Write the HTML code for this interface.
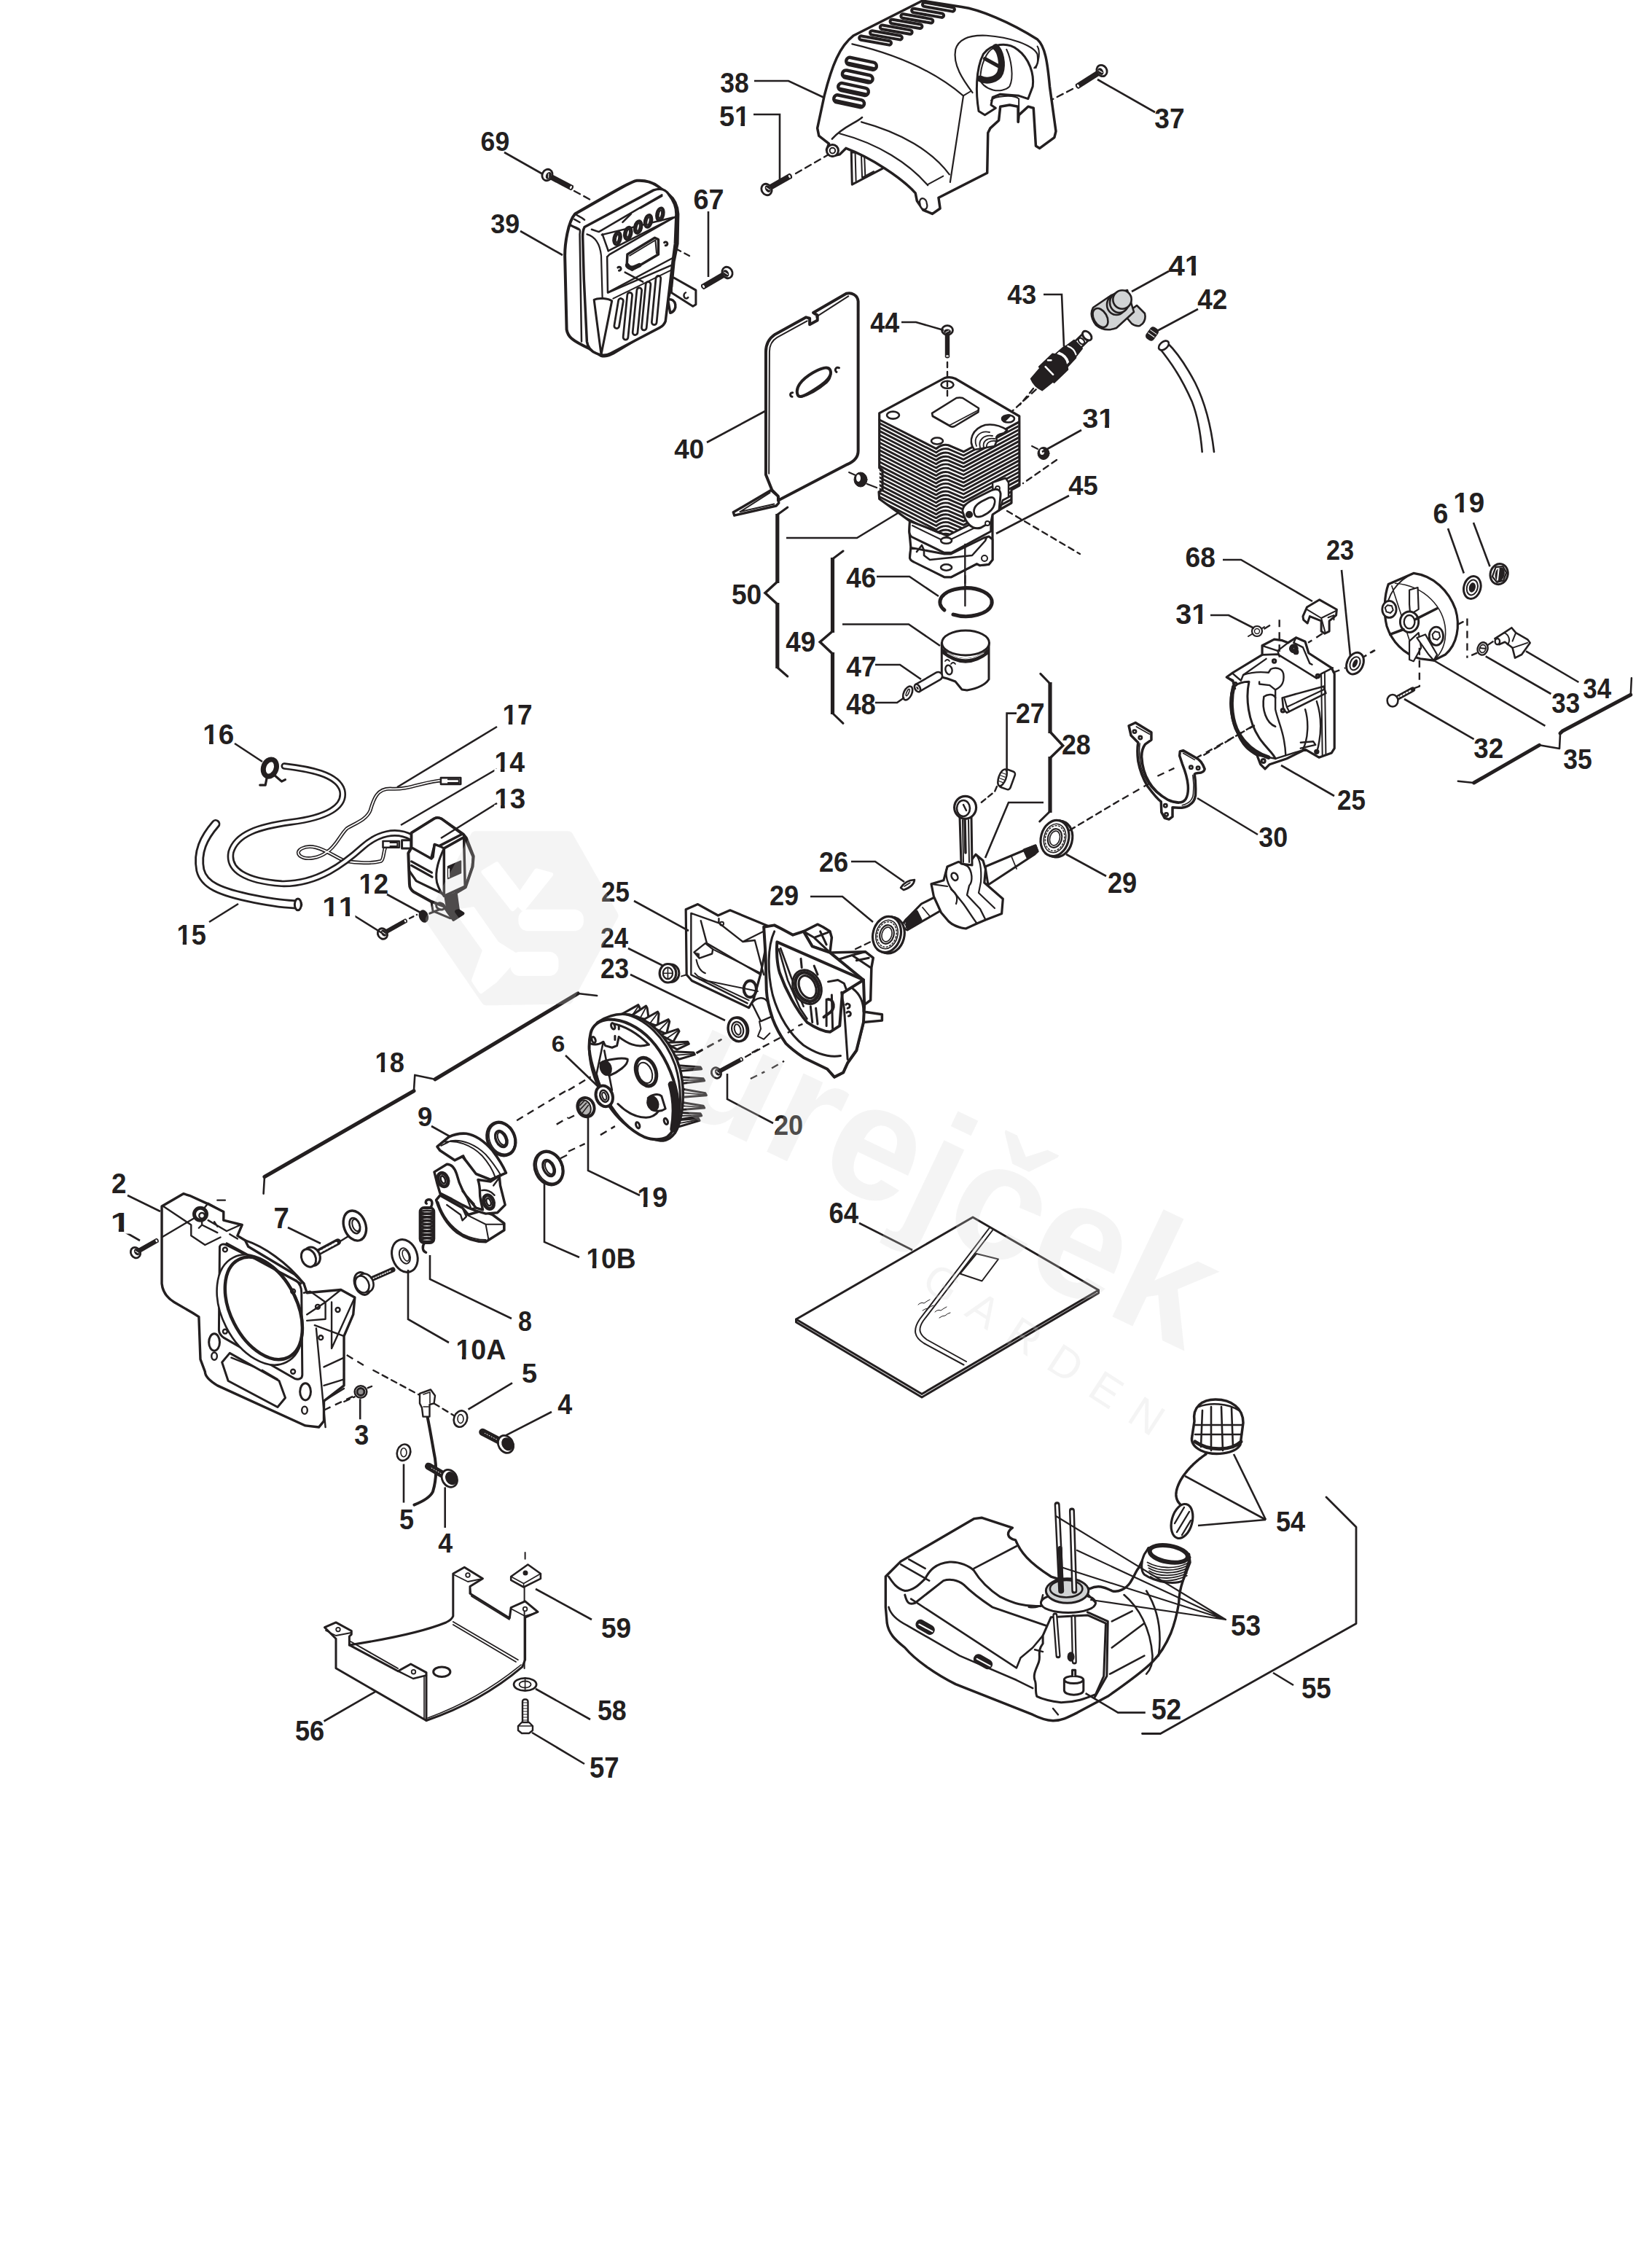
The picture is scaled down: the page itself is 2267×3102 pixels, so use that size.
<!DOCTYPE html><html><head><meta charset="utf-8"><style>html,body{margin:0;padding:0;background:#fff}svg{display:block}</style></head><body>
<svg width="2267" height="3102" viewBox="0 0 2267 3102">
<rect width="2267" height="3102" fill="#fff"/>

<g fill="#fff" stroke="#231f20" stroke-width="3" stroke-linejoin="round" stroke-linecap="round">
<g transform="translate(1110,0) scale(0.211864)"><path d="M275 985 L280 1195 L480 1090 L470 1000 Z" stroke-width="3" fill="#fff" vector-effect="non-scaling-stroke" /><path d="M300 990 L305 1170 M340 1010 L345 1150 L420 1110 M360 1020 L365 1140" stroke-width="2" fill="none" vector-effect="non-scaling-stroke"/><path d="M290 230 L735 5 L990 45 C1100 60 1300 140 1480 255 C1530 300 1545 400 1560 560 L1600 850 L1590 890 L1495 960 L1470 945 L1455 700 L1420 690 L1360 745 L1355 790 L1355 690 L1300 680 L1240 690 L1230 780 L1175 830 L1160 860 L1155 1120 L840 1280 L850 1350 L800 1385 L740 1360 L700 1300 L690 1250 C600 1150 400 1020 240 960 L200 1000 L150 1010 L115 970 L130 930 L65 880 L55 830 L100 620 C150 420 200 300 290 230 Z" stroke-width="3.5" fill="#fff" vector-effect="non-scaling-stroke" /><path d="M280 285 C560 350 800 450 1000 620" stroke-width="2.2" fill="none" vector-effect="non-scaling-stroke"/><path d="M1000 625 L915 1180" stroke-width="2.2" fill="none" vector-effect="non-scaling-stroke"/><path d="M345 760 C300 800 220 820 150 900" stroke-width="2.5" fill="none" vector-effect="non-scaling-stroke"/><path d="M340 790 C600 860 800 980 910 1130" stroke-width="2.2" fill="none" vector-effect="non-scaling-stroke"/><path d="M200 865 C450 930 650 1060 770 1200" stroke-width="2.2" fill="none" vector-effect="non-scaling-stroke"/><path d="M770 1195 L870 1140" stroke-width="2" fill="none" vector-effect="non-scaling-stroke"/><path d="M1000 620 L1050 590" stroke-width="2" fill="none" vector-effect="non-scaling-stroke"/><path d="M115 975 a38 38 0 1 0 76 0 a38 38 0 1 0 -76 0 Z" stroke-width="3" fill="#fff" vector-effect="non-scaling-stroke" /><path d="M135 975 a18 18 0 1 0 36 0 a18 18 0 1 0 -36 0" stroke-width="2" fill="none" vector-effect="non-scaling-stroke"/><path d="M720 1320 a22 30 -20 1 0 44 0 a22 30 -20 1 0 -44 0 Z" stroke-width="2.2" fill="#fff" vector-effect="non-scaling-stroke" /><g transform="translate(430,262) rotate(10)"><rect x="-105" y="-13" width="210" height="26" rx="13" stroke-width="4" fill="#fff" vector-effect="non-scaling-stroke"/></g><g transform="translate(500,228) rotate(10)"><rect x="-105" y="-13" width="210" height="26" rx="13" stroke-width="4" fill="#fff" vector-effect="non-scaling-stroke"/></g><g transform="translate(565,192) rotate(10)"><rect x="-105" y="-13" width="210" height="26" rx="13" stroke-width="4" fill="#fff" vector-effect="non-scaling-stroke"/></g><g transform="translate(630,155) rotate(10)"><rect x="-105" y="-13" width="210" height="26" rx="13" stroke-width="4" fill="#fff" vector-effect="non-scaling-stroke"/></g><g transform="translate(700,120) rotate(10)"><rect x="-105" y="-13" width="210" height="26" rx="13" stroke-width="4" fill="#fff" vector-effect="non-scaling-stroke"/></g><g transform="translate(770,84) rotate(10)"><rect x="-105" y="-13" width="210" height="26" rx="13" stroke-width="4" fill="#fff" vector-effect="non-scaling-stroke"/></g><g transform="translate(840,45) rotate(10)"><rect x="-105" y="-13" width="210" height="26" rx="13" stroke-width="4" fill="#fff" vector-effect="non-scaling-stroke"/></g><g transform="translate(340,412) rotate(12)"><rect x="-100" y="-24" width="200" height="48" rx="24" stroke-width="4.5" fill="#fff" vector-effect="non-scaling-stroke"/><line x1="-85" y1="12" x2="85" y2="12" stroke-width="3" vector-effect="non-scaling-stroke"/></g><g transform="translate(315,495) rotate(12)"><rect x="-100" y="-24" width="200" height="48" rx="24" stroke-width="4.5" fill="#fff" vector-effect="non-scaling-stroke"/><line x1="-85" y1="12" x2="85" y2="12" stroke-width="3" vector-effect="non-scaling-stroke"/></g><g transform="translate(288,578) rotate(12)"><rect x="-100" y="-24" width="200" height="48" rx="24" stroke-width="4.5" fill="#fff" vector-effect="non-scaling-stroke"/><line x1="-85" y1="12" x2="85" y2="12" stroke-width="3" vector-effect="non-scaling-stroke"/></g><g transform="translate(260,655) rotate(12)"><rect x="-100" y="-24" width="200" height="48" rx="24" stroke-width="4.5" fill="#fff" vector-effect="non-scaling-stroke"/><line x1="-85" y1="12" x2="85" y2="12" stroke-width="3" vector-effect="non-scaling-stroke"/></g><path d="M1060 600 C1000 520 930 420 950 320 C970 250 1040 225 1150 230 C1300 240 1450 290 1480 350 C1490 420 1470 430 1460 440" stroke-width="2.2" fill="none" vector-effect="non-scaling-stroke"/><path d="M1100 720 C1080 600 1080 450 1130 350 C1180 280 1290 270 1350 320 C1430 380 1460 480 1450 560 L1420 640 L1360 620 L1240 610 L1190 630 L1180 680 L1210 700 L1140 745 Z" stroke-width="3" fill="#fff" vector-effect="non-scaling-stroke" /><path d="M1110 520 C1110 420 1150 330 1200 310 C1250 320 1260 480 1200 520 Z" stroke-width="2" fill="#fff" vector-effect="non-scaling-stroke" /><path d="M1110 510 C1150 530 1220 520 1240 470 C1260 410 1240 330 1210 305" stroke-width="9" fill="none" vector-effect="non-scaling-stroke"/><path d="M1140 380 L1250 440" stroke-width="5" fill="none" vector-effect="non-scaling-stroke"/><path d="M1100 500 C1130 590 1250 610 1300 560 C1330 500 1310 380 1280 320" stroke-width="2" fill="none" vector-effect="non-scaling-stroke"/><path d="M1180 650 C1200 620 1330 610 1360 640 L1360 790" stroke-width="2" fill="none" vector-effect="non-scaling-stroke"/><path d="M1480 300 C1500 330 1490 400 1470 440" stroke-width="2" fill="none" vector-effect="non-scaling-stroke"/></g>
<g transform="translate(740,220) scale(0.163439)"><path d="M1110 990 L1130 985 L1315 1090 L1315 1210 L1290 1225 L1110 1110 Z" stroke-width="3" fill="#fff" vector-effect="non-scaling-stroke" /><path d="M1230 1110 a20 25 0 1 0 20 40" stroke-width="2.5" fill="none" vector-effect="non-scaling-stroke"/><path d="M1080 1170 C1150 1150 1170 1260 1100 1280 Z" stroke-width="3.5" fill="#fff" vector-effect="non-scaling-stroke" /><path d="M300 450 C240 520 215 700 215 800 L230 1420 C240 1480 270 1510 420 1580 L520 1640 C560 1650 590 1635 620 1620 L1000 1390 C1040 1370 1050 1340 1055 1300 L1070 1200 L1110 1060 L1130 850 L1160 700 L1165 450 C1160 380 1140 330 1090 290 L1000 220 C960 190 900 165 820 170 C780 175 700 220 300 450 Z" stroke-width="4" fill="#fff" vector-effect="non-scaling-stroke" /><path d="M260 540 C330 580 350 560 340 620 L355 1520" stroke-width="2.5" fill="none" vector-effect="non-scaling-stroke"/><path d="M295 495 L340 520 M260 545 L330 580" stroke-width="2.5" fill="none" vector-effect="non-scaling-stroke"/><path d="M300 450 C330 470 360 480 380 500" stroke-width="2.5" fill="none" vector-effect="non-scaling-stroke"/><path d="M380 560 L960 250 C1020 230 1060 240 1090 290 C1130 340 1150 400 1150 450 L1140 700 L1120 850 L1090 1100 L1060 1350 C1050 1380 1030 1395 1010 1405 L600 1620 C560 1640 520 1640 480 1620 C430 1600 405 1560 400 1520 L375 1000 L365 640 C365 600 370 580 380 560 Z" stroke-width="3.5" fill="#fff" vector-effect="non-scaling-stroke" /><path d="M400 620 C470 640 510 700 520 800 L530 1150" stroke-width="2.2" fill="none" vector-effect="non-scaling-stroke"/><path d="M440 580 L500 600 L1030 290" stroke-width="2.5" fill="none" vector-effect="non-scaling-stroke"/><path d="M700 520 L770 450 M850 400 L1030 300" stroke-width="2.5" fill="none" vector-effect="non-scaling-stroke"/><path d="M530 620 L580 760 M525 625 L1120 480" stroke-width="2.5" fill="none" vector-effect="non-scaling-stroke"/><path d="M580 760 L1150 470" stroke-width="2.5" fill="none" vector-effect="non-scaling-stroke"/><g transform="translate(655,655) rotate(12)"><ellipse rx="28" ry="52" stroke-width="4" fill="#fff" vector-effect="non-scaling-stroke"/><ellipse rx="12" ry="34" stroke-width="2" fill="none" vector-effect="non-scaling-stroke"/></g><g transform="translate(745,612) rotate(12)"><ellipse rx="28" ry="52" stroke-width="4" fill="#fff" vector-effect="non-scaling-stroke"/><ellipse rx="12" ry="34" stroke-width="2" fill="none" vector-effect="non-scaling-stroke"/></g><g transform="translate(830,560) rotate(12)"><ellipse rx="28" ry="52" stroke-width="4" fill="#fff" vector-effect="non-scaling-stroke"/><ellipse rx="12" ry="34" stroke-width="2" fill="none" vector-effect="non-scaling-stroke"/></g><g transform="translate(915,510) rotate(12)"><ellipse rx="28" ry="52" stroke-width="4" fill="#fff" vector-effect="non-scaling-stroke"/><ellipse rx="12" ry="34" stroke-width="2" fill="none" vector-effect="non-scaling-stroke"/></g><g transform="translate(1015,452) rotate(12)"><ellipse rx="28" ry="52" stroke-width="4" fill="#fff" vector-effect="non-scaling-stroke"/><ellipse rx="12" ry="34" stroke-width="2" fill="none" vector-effect="non-scaling-stroke"/></g><path d="M570 810 L590 790 L1130 480" stroke-width="2.5" fill="none" vector-effect="non-scaling-stroke"/><path d="M570 810 L575 1110 L1120 820" stroke-width="2.5" fill="none" vector-effect="non-scaling-stroke"/><path d="M740 790 L970 650 L1000 665 L1000 790 L780 920 L735 890 Z" stroke-width="3.5" fill="#fff" vector-effect="non-scaling-stroke" /><path d="M760 800 L975 670 L985 780" stroke-width="2" fill="none" vector-effect="non-scaling-stroke"/><path d="M740 880 C760 920 800 900 840 880" stroke-width="6" fill="none" vector-effect="non-scaling-stroke"/><path d="M660 900 a15 15 0 1 1 10 25 M1050 690 a15 15 0 1 1 10 25" stroke-width="3" fill="none" vector-effect="non-scaling-stroke"/><path d="M720 940 L870 1020" stroke-width="2.5" fill="none" vector-effect="non-scaling-stroke"/><path d="M460 1170 C500 1150 580 1160 610 1180 L520 1630 Z" stroke-width="3" fill="#fff" vector-effect="non-scaling-stroke" /><path d="M580 1110 L1110 880" stroke-width="2.5" fill="none" vector-effect="non-scaling-stroke"/><path d="M685 1180 L650 1390" stroke-width="48" stroke-linecap="round" fill="none" vector-effect="non-scaling-stroke" style="stroke-width:9.5px"/><path d="M685 1180 L650 1390" stroke="#fff" stroke-linecap="round" fill="none" vector-effect="non-scaling-stroke" style="stroke-width:4px"/><path d="M760 1130 L725 1485" stroke-width="48" stroke-linecap="round" fill="none" vector-effect="non-scaling-stroke" style="stroke-width:9.5px"/><path d="M760 1130 L725 1485" stroke="#fff" stroke-linecap="round" fill="none" vector-effect="non-scaling-stroke" style="stroke-width:4px"/><path d="M840 1090 L805 1445" stroke-width="48" stroke-linecap="round" fill="none" vector-effect="non-scaling-stroke" style="stroke-width:9.5px"/><path d="M840 1090 L805 1445" stroke="#fff" stroke-linecap="round" fill="none" vector-effect="non-scaling-stroke" style="stroke-width:4px"/><path d="M915 1040 L880 1405" stroke-width="48" stroke-linecap="round" fill="none" vector-effect="non-scaling-stroke" style="stroke-width:9.5px"/><path d="M915 1040 L880 1405" stroke="#fff" stroke-linecap="round" fill="none" vector-effect="non-scaling-stroke" style="stroke-width:4px"/><path d="M1000 990 L965 1360" stroke-width="48" stroke-linecap="round" fill="none" vector-effect="non-scaling-stroke" style="stroke-width:9.5px"/><path d="M1000 990 L965 1360" stroke="#fff" stroke-linecap="round" fill="none" vector-effect="non-scaling-stroke" style="stroke-width:4px"/><path d="M620 1160 L1110 920" stroke-width="2" fill="none" vector-effect="non-scaling-stroke"/></g>
<g transform="translate(751,240) rotate(27.8)"><path d="M3.2 -3.8 L38.5 -3.8 Q41.7 0 38.5 3.8 L3.2 3.8 Z" fill="#231f20" stroke="none"/><ellipse cx="36.6" cy="0" rx="1.3" ry="2.2" fill="#fff" stroke="none"/><ellipse cx="0" cy="0" rx="6.8" ry="8.0" stroke-width="2.8" fill="#fff"/><ellipse cx="2.0" cy="0" rx="3.6" ry="5.2" fill="#231f20" stroke="none"/><path d="M0.8 -2.4 L3.2 2.4" stroke="#fff" stroke-width="1" fill="none"/></g>
<path d="M788 262 L812 275" stroke-width="2.4" fill="none" stroke-dasharray="9 6"/>
<g transform="translate(998,374) rotate(149.7)"><path d="M3.2 -3.8 L39.4 -3.8 Q42.7 0 39.4 3.8 L3.2 3.8 Z" fill="#231f20" stroke="none"/><ellipse cx="37.6" cy="0" rx="1.3" ry="2.2" fill="#fff" stroke="none"/><ellipse cx="0" cy="0" rx="6.8" ry="8.0" stroke-width="2.8" fill="#fff"/><ellipse cx="2.0" cy="0" rx="3.6" ry="5.2" fill="#231f20" stroke="none"/><path d="M0.8 -2.4 L3.2 2.4" stroke="#fff" stroke-width="1" fill="none"/></g>
<g transform="translate(1052,260) rotate(-29.7)"><path d="M3.2 -3.8 L38.1 -3.8 Q41.3 0 38.1 3.8 L3.2 3.8 Z" fill="#231f20" stroke="none"/><ellipse cx="36.2" cy="0" rx="1.3" ry="2.2" fill="#fff" stroke="none"/><ellipse cx="0" cy="0" rx="6.8" ry="8.0" stroke-width="2.8" fill="#fff"/><ellipse cx="2.0" cy="0" rx="3.6" ry="5.2" fill="#231f20" stroke="none"/><path d="M0.8 -2.4 L3.2 2.4" stroke="#fff" stroke-width="1" fill="none"/></g>
<path d="M1092 238 L1137 212" stroke-width="2.4" fill="none" stroke-dasharray="9 6"/>
<g transform="translate(1512,97) rotate(147.4)"><path d="M3.2 -3.8 L40.5 -3.8 Q43.7 0 40.5 3.8 L3.2 3.8 Z" fill="#231f20" stroke="none"/><ellipse cx="38.6" cy="0" rx="1.3" ry="2.2" fill="#fff" stroke="none"/><ellipse cx="0" cy="0" rx="6.8" ry="8.0" stroke-width="2.8" fill="#fff"/><ellipse cx="2.0" cy="0" rx="3.6" ry="5.2" fill="#231f20" stroke="none"/><path d="M0.8 -2.4 L3.2 2.4" stroke="#fff" stroke-width="1" fill="none"/></g>
<path d="M1472 122 L1443 137" stroke-width="2.4" fill="none" stroke-dasharray="9 6"/>
<g transform="translate(1000,395) scale(0.141543)"><path d="M410 1960 L45 2175 L55 2205 L460 2112 L485 2085 L480 2020 Z" stroke-width="3.5" fill="#fff" vector-effect="non-scaling-stroke" /><path d="M400 1985 L110 2170 L440 2095" stroke-width="2" fill="none" vector-effect="non-scaling-stroke"/><path d="M360 620 C360 540 390 490 450 450 L750 285 L785 295 L785 355 L860 315 L860 265 L820 240 L1140 55 C1190 40 1250 70 1255 130 L1255 1580 C1255 1640 1220 1680 1150 1710 L480 2060 L480 2020 L420 1960 L360 1810 Z" stroke-width="4" fill="#fff" vector-effect="non-scaling-stroke" /><path d="M390 1800 L395 620 C395 550 420 510 470 480 L760 320 M850 280 L1160 80" stroke-width="2" fill="none" vector-effect="non-scaling-stroke"/><path d="M670 1040 C640 970 700 890 820 820 C900 775 960 760 980 790 C1010 840 960 900 870 960 C780 1020 690 1080 670 1040 Z" stroke-width="4" fill="#fff" vector-effect="non-scaling-stroke" /><path d="M700 1060 C780 1040 880 980 950 920 C990 880 1000 840 985 800" stroke-width="2" fill="none" vector-effect="non-scaling-stroke"/><path d="M620 1015 a14 14 0 1 0 -5 40 M1070 775 a14 14 0 1 0 -25 40" stroke-width="3" fill="none" vector-effect="non-scaling-stroke"/></g>
<ellipse cx="1181" cy="658" rx="9" ry="10" fill="#231f20" stroke-width="1"/><ellipse cx="1178" cy="656" rx="3" ry="5" fill="#fff" stroke="none"/>
<path d="M1165 648 L1174 652" stroke-width="2" fill="none"/>
<path d="M1206.7 566.8 L1295.8 518.8 Q1303 516 1311 519.5 L1398.8 571 L1399 666 L1388 672 L1388 690 L1362 705 L1362 768 L1357 774.3 L1344.5 775.7 L1340.4 773.6 L1305.5 791.7 L1295.8 791.7 L1254 770 L1248.5 765.3 L1249.9 751.4 L1247.8 729 L1248.5 715 L1231.8 702.6 L1206.7 684.5 L1206 674.8 L1211 672 L1211 645 L1206.7 642 Z" stroke-width="3.2" fill="#fff"/><clipPath id="finclip"><path d="M1207 576 L1284.7 615.5 L1301.4 610.7 L1322.3 619.7 L1397.4 579.4 L1399 666 L1388 672 L1388 690 L1362 705 L1362 740 L1300 760 L1248 730 L1248.5 715 L1206.7 684.5 Z"/></clipPath><g clip-path="url(#finclip)"><path d="M1200 572.0 L1208 576.0 L1284.7 615.5 Q1293 609.0 1301.4 610.7 L1322.3 619.7 L1397.4 579.4 L1405 575.4" stroke-width="2.9" fill="none"/><path d="M1200 577.3 L1208 581.3 L1284.7 620.8 Q1293 614.3 1301.4 616.0 L1322.3 625.0 L1397.4 584.7 L1405 580.7" stroke-width="2.9" fill="none"/><path d="M1200 582.6 L1208 586.6 L1284.7 626.1 Q1293 619.6 1301.4 621.3 L1322.3 630.3 L1397.4 590.0 L1405 586.0" stroke-width="2.9" fill="none"/><path d="M1200 587.9 L1208 591.9 L1284.7 631.4 Q1293 624.9 1301.4 626.6 L1322.3 635.6 L1397.4 595.3 L1405 591.3" stroke-width="2.9" fill="none"/><path d="M1200 593.2 L1208 597.2 L1284.7 636.7 Q1293 630.2 1301.4 631.9 L1322.3 640.9 L1397.4 600.6 L1405 596.6" stroke-width="2.9" fill="none"/><path d="M1200 598.5 L1208 602.5 L1284.7 642.0 Q1293 635.5 1301.4 637.2 L1322.3 646.2 L1397.4 605.9 L1405 601.9" stroke-width="2.9" fill="none"/><path d="M1200 603.8 L1208 607.8 L1284.7 647.3 Q1293 640.8 1301.4 642.5 L1322.3 651.5 L1397.4 611.2 L1405 607.2" stroke-width="2.9" fill="none"/><path d="M1200 609.1 L1208 613.1 L1284.7 652.6 Q1293 646.1 1301.4 647.8 L1322.3 656.8 L1397.4 616.5 L1405 612.5" stroke-width="2.9" fill="none"/><path d="M1200 614.4 L1208 618.4 L1284.7 657.9 Q1293 651.4 1301.4 653.1 L1322.3 662.1 L1397.4 621.8 L1405 617.8" stroke-width="2.9" fill="none"/><path d="M1200 619.7 L1208 623.7 L1284.7 663.2 Q1293 656.7 1301.4 658.4 L1322.3 667.4 L1397.4 627.1 L1405 623.1" stroke-width="2.9" fill="none"/><path d="M1200 625.0 L1208 629.0 L1284.7 668.5 Q1293 662.0 1301.4 663.7 L1322.3 672.7 L1397.4 632.4 L1405 628.4" stroke-width="2.9" fill="none"/><path d="M1200 630.3 L1208 634.3 L1284.7 673.8 Q1293 667.3 1301.4 669.0 L1322.3 678.0 L1397.4 637.7 L1405 633.7" stroke-width="2.9" fill="none"/><path d="M1200 635.6 L1208 639.6 L1284.7 679.1 Q1293 672.6 1301.4 674.3 L1322.3 683.3 L1397.4 643.0 L1405 639.0" stroke-width="2.9" fill="none"/><path d="M1200 640.9 L1208 644.9 L1284.7 684.4 Q1293 677.9 1301.4 679.6 L1322.3 688.6 L1397.4 648.3 L1405 644.3" stroke-width="2.9" fill="none"/><path d="M1200 646.2 L1208 650.2 L1284.7 689.7 Q1293 683.2 1301.4 684.9 L1322.3 693.9 L1397.4 653.6 L1405 649.6" stroke-width="2.9" fill="none"/><path d="M1200 651.5 L1208 655.5 L1284.7 695.0 Q1293 688.5 1301.4 690.2 L1322.3 699.2 L1397.4 658.9 L1405 654.9" stroke-width="2.9" fill="none"/><path d="M1200 656.8 L1208 660.8 L1284.7 700.3 Q1293 693.8 1301.4 695.5 L1322.3 704.5 L1397.4 664.2 L1405 660.2" stroke-width="2.9" fill="none"/><path d="M1200 662.1 L1208 666.1 L1284.7 705.6 Q1293 699.1 1301.4 700.8 L1322.3 709.8 L1397.4 669.5 L1405 665.5" stroke-width="2.9" fill="none"/><path d="M1200 667.4 L1208 671.4 L1284.7 710.9 Q1293 704.4 1301.4 706.1 L1322.3 715.1 L1397.4 674.8 L1405 670.8" stroke-width="2.9" fill="none"/><path d="M1200 672.7 L1208 676.7 L1284.7 716.2 Q1293 709.7 1301.4 711.4 L1322.3 720.4 L1397.4 680.1 L1405 676.1" stroke-width="2.9" fill="none"/><path d="M1200 678.0 L1208 682.0 L1284.7 721.5 Q1293 715.0 1301.4 716.7 L1322.3 725.7 L1397.4 685.4 L1405 681.4" stroke-width="2.9" fill="none"/><path d="M1200 683.3 L1208 687.3 L1284.7 726.8 Q1293 720.3 1301.4 722.0 L1322.3 731.0 L1397.4 690.7 L1405 686.7" stroke-width="2.9" fill="none"/><path d="M1200 688.6 L1208 692.6 L1284.7 732.1 Q1293 725.6 1301.4 727.3 L1322.3 736.3 L1397.4 696.0 L1405 692.0" stroke-width="2.9" fill="none"/><path d="M1200 693.9 L1208 697.9 L1284.7 737.4 Q1293 730.9 1301.4 732.6 L1322.3 741.6 L1397.4 701.3 L1405 697.3" stroke-width="2.9" fill="none"/></g><path d="M1207 576 L1284.7 615.5 Q1293 609 1301.4 610.7 L1322.3 619.7 L1397.4 579.4" stroke-width="3" fill="none"/><ellipse cx="1225.5" cy="569.6" rx="8.5" ry="5" stroke-width="2.6" fill="#fff"/><ellipse cx="1300" cy="527.8" rx="8.5" ry="5" stroke-width="2.6" fill="#fff"/><ellipse cx="1286" cy="605" rx="8" ry="4.5" stroke-width="2.6" fill="#fff"/><ellipse cx="1383.5" cy="574.5" rx="8.5" ry="5" stroke-width="2.6" fill="#fff"/><path d="M1376 576 Q1380 569 1386 570 L1378 578 Z" fill="#231f20"/><path d="M1279 566.8 L1312.5 546 Q1317 545 1321 546 L1343 560 L1342.4 565.4 L1309.7 585 Q1306 586.5 1302.8 584.2 L1279.8 571 Z" stroke-width="2.6" fill="#fff"/><path d="M1281 571 L1303 583.5 L1342 563" stroke-width="1.6" fill="none"/><path d="M1337 617 C1328 605 1334 588 1352 583 C1365 581 1376 586 1382 590 L1378 594 C1370 596 1365 598 1368 604 L1365 612 Z" stroke-width="2.6" fill="#fff"/><path d="M1340 612 C1335 600 1345 590 1358 593 M1345 614 C1342 604 1350 596 1362 598 M1350 614 C1348 606 1354 600 1365 602 M1354 614 C1353 608 1358 604 1366 605" stroke-width="1.8" fill="none"/><path d="M1248.5 715 L1247.8 729 Q1248 735 1252 737 L1295.8 758.3 L1305.5 758.3 L1359.8 729 L1360 705 L1300 735 L1275 725 Z" stroke-width="3" fill="#fff"/><path d="M1252 721 L1295 742 L1305 740 L1350 718 M1255 717 L1290 732" stroke-width="2" fill="none"/><path d="M1249.9 751.4 L1248.5 765.3 Q1249 769 1254 771 L1295.8 791.7 L1305.5 791.7 L1340.4 773.6 L1344.5 775.7 L1357 774.3 L1362 768 L1362 740 L1357 736 L1350 738 L1305 760 L1296 760 Z" stroke-width="3" fill="#fff"/><path d="M1258 757 L1265 748 L1268 755 L1268 762 L1276 768 L1334 762 L1352 742 L1354 737" stroke-width="2.6" fill="none"/><ellipse cx="1298.6" cy="741.6" rx="7.5" ry="4.2" stroke-width="2.6" fill="#fff"/><ellipse cx="1298.6" cy="778.5" rx="7.5" ry="4.2" stroke-width="2.6" fill="#fff"/><circle cx="1351" cy="766" r="4" stroke-width="2" fill="#fff"/><path d="M1362 662 L1380 656 L1384 662 L1384 682 L1376 686 L1372 700 L1364 704 Z" stroke-width="2.4" fill="#fff"/><circle cx="1369" cy="670" r="3" stroke-width="1.8" fill="#fff"/><path d="M1322 705 C1318 697 1326 690 1336 685 L1360 673 C1368 669 1374 672 1373 680 L1371 700 L1362 706 L1360 716 L1346 724 C1333 728 1325 716 1322 705 Z" stroke-width="3" fill="#fff"/><path d="M1338 707 C1334 699 1338 693 1347 688 L1357 683 C1363 681 1366 684 1365 690 C1364 698 1357 704 1348 708 C1342 710 1339 709 1338 707 Z" stroke-width="2.6" fill="#fff"/><circle cx="1330" cy="706" r="3.6" fill="#231f20"/><circle cx="1355" cy="718" r="3" stroke-width="1.8" fill="#fff"/>
<path d="M1300 497 L1300 549" stroke-width="2.4" fill="none" stroke-dasharray="7 6"/>
<path d="M1432 525 L1388 565" stroke-width="2.4" fill="none" stroke-dasharray="8 6"/>
<path d="M1450 631 L1404 663" stroke-width="2.4" fill="none" stroke-dasharray="8 6"/>
<path d="M1382 701 L1482 760" stroke-width="2.4" fill="none" stroke-dasharray="8 6"/>
<path d="M1190 664 L1203 669" stroke-width="2.4" fill="none"/>
<path d="M1324.3 747 L1324.3 800" stroke-width="2.4" fill="none"/>
<g transform="translate(1424,526) rotate(-44) scale(1.07,1)"><path d="M-2 -11 L18 -13 L18 13 L-2 11 Q-6 0 -2 -11 Z" fill="#231f20" stroke-width="2"/><path d="M16 -15 L40 -15 L42 -12 L42 12 L40 15 L16 15 Z" fill="#231f20" stroke-width="2"/><path d="M22 -9 L22 6 M30 -13 L33 -10" stroke="#fff" stroke-width="2.4"/><path d="M42 -12 L58 -11 L58 11 L42 12 Z" fill="#231f20" stroke-width="2"/><path d="M44 -11 Q50 0 44 9 L48 9 Q53 0 48 -11 Z" fill="#fff" stroke="none"/><path d="M58 -10 L72 -8 L72 8 L58 10 Z" fill="#231f20" stroke-width="2"/><path d="M61 -8 Q65 0 61 8" stroke="#fff" stroke-width="2" fill="none"/><path d="M72 -6 L84 -6 L84 6 L72 6 Z" fill="#fff" stroke-width="2.6"/><ellipse cx="88" cy="0" rx="4.5" ry="7.5" fill="#fff" stroke-width="2.8"/><ellipse cx="78" cy="0" rx="3" ry="5" fill="#fff" stroke-width="2.2"/></g>
<path d="M1418 533 L1400 555" stroke-width="2.4" fill="none" stroke-dasharray="8 6"/>
<g stroke-width="2.6"><path d="M1560 419 L1571 430 Q1573 438 1568 444 L1564 447 Q1558 448 1553 444 L1543 432 Z" fill="#d1d3d4"/><path d="M1525 405 L1547 398 L1556 428 L1532 450 Q1516 456 1504 446 Q1494 433 1500 422 Z" fill="#d1d3d4"/><ellipse cx="1510" cy="436" rx="9" ry="14" transform="rotate(-30 1510 436)" fill="#d1d3d4"/><ellipse cx="1532" cy="418" rx="13" ry="14" fill="#d1d3d4"/><ellipse cx="1536" cy="415" rx="13" ry="14" fill="#d1d3d4"/><circle cx="1540" cy="411" r="12.7" fill="#d1d3d4"/></g>
<g transform="translate(1581,458) rotate(35)"><rect x="-5" y="-8" width="10" height="16" rx="3" fill="#231f20"/><path d="M-5 -3 L5 -3 M-5 2 L5 2" stroke="#fff" stroke-width="1"/></g>
<path d="M1590.7 477 C1605 495 1620 515 1636 551.6 C1645 575 1648 600 1649.7 620" stroke-width="2.6" fill="none"/>
<path d="M1601.5 470 C1612 480 1623 493 1640 525 C1655 555 1662 585 1666 620" stroke-width="2.6" fill="none"/>
<ellipse cx="1597" cy="474" rx="8" ry="5" transform="rotate(-40 1597 474)" stroke-width="2.6" fill="#fff"/>
<ellipse cx="1432" cy="622" rx="8" ry="8.5" fill="#231f20" stroke-width="1"/><ellipse cx="1430" cy="620" rx="3" ry="4" fill="#fff" stroke="none"/><path d="M1416 612 L1424 616" stroke-width="2" fill="none"/>
<g transform="translate(1300,453) rotate(90.0)"><path d="M3.0 -3.2 L37.0 -3.2 Q40.0 0 37.0 3.2 L3.0 3.2 Z" fill="#231f20" stroke="none"/><ellipse cx="35.4" cy="0" rx="1.2" ry="1.9" fill="#fff" stroke="none"/><ellipse cx="0" cy="0" rx="6.4" ry="7.5" stroke-width="2.8" fill="#fff"/><ellipse cx="1.9" cy="0" rx="3.4" ry="4.9" fill="#231f20" stroke="none"/><path d="M0.8 -2.2 L3.0 2.2" stroke="#fff" stroke-width="1" fill="none"/></g>
<path d="M1296 837 A35.7 19.4 0 1 1 1308 843" stroke-width="5" fill="none" transform="rotate(0)"/><path d="M1297 834 A32 16 0 1 1 1309 840" stroke="#fff" stroke-width="0.8" fill="none" stroke-dasharray="2 12"/><path d="M1324.4 790 L1324.4 831" stroke-width="2.4"/><path d="M1292.3 882 L1292.3 929 L1300 931 L1311 935 L1320 946 L1327 947 Q1350 943 1357 932 L1357 882 Z" stroke-width="3" fill="#fff"/><ellipse cx="1325" cy="882" rx="32.5" ry="17" stroke-width="3" fill="#fff"/><path d="M1293 890 Q1325 918 1357 890 L1357 896 Q1325 922 1293 896 Z" fill="#231f20" stroke-width="1.5"/><path d="M1300 896 Q1325 912 1350 896" stroke="#fff" stroke-width="1" fill="none"/><ellipse cx="1302" cy="919" rx="4.5" ry="6.5" transform="rotate(-15 1302 919)" stroke-width="2.4" fill="#fff"/><path d="M1297 907 q3 -4 6 0 M1305 911 q3 -4 6 0" stroke-width="1.8" fill="none"/><g transform="translate(1259,944) rotate(-30)"><path d="M0 -5.5 L33 -5.5 A5.5 5.5 0 0 1 33 5.5 L0 5.5 Z" stroke-width="2.6" fill="#fff"/><ellipse cx="0" cy="0" rx="3.5" ry="5.5" stroke-width="2.6" fill="#fff"/><ellipse cx="0" cy="0" rx="1.2" ry="2.5" fill="#231f20" stroke="none"/></g><ellipse cx="1245.7" cy="951" rx="5.5" ry="10" transform="rotate(25 1245.7 951)" stroke-width="2.6" fill="#fff"/><ellipse cx="1245.7" cy="950" rx="1.5" ry="5" transform="rotate(25 1245.7 950)" stroke-width="1.6" fill="none"/>
<path d="M1352 1189 L1414 1163 L1421 1160 L1424 1168 L1420 1172 L1356 1214 Z" stroke-width="3" fill="#fff"/><path d="M1405 1166 L1421 1160 L1424 1168 L1410 1177 Z" fill="#231f20"/><path d="M1388 1175 L1395 1192" stroke-width="1.8"/><path d="M1305 1219.7 L1264.4 1240 L1243 1262 Q1237 1268 1241 1274 L1245 1276 L1310 1238.3 Z" stroke-width="3" fill="#fff"/><path d="M1243 1262 L1258 1250 L1264 1262 L1246 1275 Z" fill="#231f20"/><ellipse cx="1240.5" cy="1270" rx="2.5" ry="4" transform="rotate(-30 1240.5 1270)" stroke-width="1.5" fill="#fff"/><path d="M1266 1245 L1276 1257" stroke-width="1.8"/><path d="M1278 1212.9 L1294.9 1207.8 L1300 1189 L1315.3 1182.4 L1327 1187.5 L1339 1172.2 L1349 1180.7 L1352.5 1192.5 L1350.8 1211 L1376.3 1233.2 L1374.6 1253.6 L1352.5 1262 L1340.7 1267 L1325.4 1274 Q1310 1272 1301.7 1264 L1291.5 1252 L1281.4 1230 Z" stroke-width="3.2" fill="#fff"/><path d="M1300 1189 C1296 1200 1300 1215 1310 1225 L1322 1240 C1328 1248 1335 1260 1340.7 1267" stroke-width="2.4" fill="none"/><path d="M1327 1187.5 C1335 1195 1335 1210 1330 1215 L1327 1228 L1345 1247 L1352.5 1262" stroke-width="2.4" fill="none"/><path d="M1339 1172.2 C1346 1180 1347 1195 1346 1210 L1343 1225 L1365 1246" stroke-width="2.2" fill="none"/><path d="M1278 1212.9 L1300 1216 M1305 1220 C1312 1225 1315 1232 1312 1240" stroke-width="2.2" fill="none"/><ellipse cx="1310" cy="1202.7" rx="4" ry="5.5" transform="rotate(-30 1310 1202.7)" stroke-width="2.6" fill="#fff"/><path d="M1317 1121 L1319 1185 L1334 1187 L1333 1121 Z" stroke-width="3" fill="#fff"/><path d="M1321 1125 L1322 1183 M1329 1125 L1330 1183" stroke-width="2" fill="none"/><path d="M1324 1124 L1325 1170" stroke-width="3.5" fill="none"/><ellipse cx="1324.6" cy="1107.8" rx="15" ry="15.5" stroke-width="3.2" fill="#fff"/><ellipse cx="1322" cy="1109" rx="9" ry="11" stroke-width="2.6" fill="#fff"/><path d="M1322 1104 L1326 1112" stroke-width="2.5"/>
<g transform="translate(1447.5,1150) rotate(15)"><ellipse cx="5" cy="0" rx="19" ry="25" stroke-width="3.2" fill="#fff"/><path d="M5 -25 L0 -25 M5 25 L0 25" stroke-width="3.2"/><ellipse cx="0" cy="0" rx="19" ry="25" stroke-width="3.2" fill="#fff"/><ellipse cx="0" cy="0" rx="14.8" ry="20.0" stroke-width="1.6" fill="none"/><ellipse cx="0" cy="0" rx="12.9" ry="17.5" stroke-width="1.4" fill="none" stroke-dasharray="2 2.5"/><ellipse cx="0" cy="0" rx="9.5" ry="13.0" stroke-width="2.2" fill="none"/><ellipse cx="0" cy="0" rx="6.8" ry="10.0" stroke-width="1.6" fill="none"/></g>
<g transform="translate(1217,1282) rotate(15)"><ellipse cx="5" cy="0" rx="19" ry="25" stroke-width="3.2" fill="#fff"/><path d="M5 -25 L0 -25 M5 25 L0 25" stroke-width="3.2"/><ellipse cx="0" cy="0" rx="19" ry="25" stroke-width="3.2" fill="#fff"/><ellipse cx="0" cy="0" rx="14.8" ry="20.0" stroke-width="1.6" fill="none"/><ellipse cx="0" cy="0" rx="12.9" ry="17.5" stroke-width="1.4" fill="none" stroke-dasharray="2 2.5"/><ellipse cx="0" cy="0" rx="9.5" ry="13.0" stroke-width="2.2" fill="none"/><ellipse cx="0" cy="0" rx="6.8" ry="10.0" stroke-width="1.6" fill="none"/></g>
<g transform="translate(1384,1070) rotate(20)"><rect x="-10" y="-13" width="16" height="26" rx="4" stroke-width="2.6" fill="#fff"/><ellipse cx="-9" cy="0" rx="5" ry="12" stroke-width="2.6" fill="#fff"/><path d="M-12 -6 L-6 -6 M-12 -2 L-6 -2 M-12 2 L-6 2 M-12 6 L-6 6" stroke-width="1.2"/></g>
<path d="M1368 1079 L1365 1086 L1344 1103" stroke-width="2.4" fill="none" stroke-dasharray="7 5"/>
<path d="M1236 1218 Q1242 1208 1255 1207 Q1254 1216 1240 1221 Z" stroke-width="2.6" fill="#fff"/><path d="M1241 1216 L1249 1211" stroke-width="1.5"/>
<polyline points="1080.8,696 1067,706" stroke-width="3" fill="none"/><polyline points="1066.8,705 1066.8,800" stroke-width="5.2" fill="none" stroke-linecap="butt"/><polyline points="1066.8,798 1050,813.5 1066.8,829" stroke-width="3.6" fill="none" stroke-linejoin="miter"/><polyline points="1066.8,827 1066.8,917" stroke-width="5.2" fill="none" stroke-linecap="butt"/><polyline points="1067,916 1080.8,928" stroke-width="3" fill="none"/><polyline points="1157,756 1143,766.5" stroke-width="3" fill="none"/><polyline points="1142.5,765 1142.5,868" stroke-width="5.2" fill="none" stroke-linecap="butt"/><polyline points="1142.5,866 1125.3,880.7 1142.5,897" stroke-width="3.6" fill="none" stroke-linejoin="miter"/><polyline points="1142.5,895 1142.5,980" stroke-width="5.2" fill="none" stroke-linecap="butt"/><polyline points="1143,979 1157,992.3" stroke-width="3" fill="none"/><polyline points="1427.8,924.4 1440,937" stroke-width="3" fill="none"/><polyline points="1441,936 1441,1006" stroke-width="5.2" fill="none" stroke-linecap="butt"/><polyline points="1441,1004 1458.6,1023 1441,1040" stroke-width="3.6" fill="none" stroke-linejoin="miter"/><polyline points="1441,1038 1441,1115" stroke-width="5.2" fill="none" stroke-linecap="butt"/><polyline points="1440,1114 1426.7,1127" stroke-width="3" fill="none"/>
<g transform="translate(1640,800) scale(0.157381)"><path d="M275 820 L330 780 L585 625 L585 545 L690 490 L760 500 L810 520 L880 475 L960 510 L990 610 L1190 740 L1215 790 L1215 1440 L1190 1480 L1080 1520 L960 1450 L800 1530 L650 1580 L610 1620 L570 1580 L540 1500 C470 1460 420 1420 380 1330 C330 1230 310 1150 310 1050 C310 980 320 930 340 900 L330 850 Z" stroke-width="3.2" fill="#fff" vector-effect="non-scaling-stroke" /><path d="M585 625 L720 620 L1060 830 L1100 790 L1200 740" stroke-width="2.6" fill="none" vector-effect="non-scaling-stroke"/><path d="M585 545 L720 590 L810 520 M720 590 L735 640" stroke-width="2.4" fill="none" vector-effect="non-scaling-stroke"/><path d="M880 475 L860 520 L940 560 L1000 700 L1020 710" stroke-width="2.4" fill="none" vector-effect="non-scaling-stroke"/><path d="M330 790 L400 850 L420 800 L620 660 M280 825 L330 860 L350 920" stroke-width="2.4" fill="none" vector-effect="non-scaling-stroke"/><path d="M420 800 C480 780 560 770 640 780 L660 750 C700 730 760 740 770 790 C780 860 760 900 700 930 L700 1100 C720 1200 780 1300 790 1500" stroke-width="2.4" fill="none" vector-effect="non-scaling-stroke"/><path d="M340 900 C380 870 430 860 470 860 C440 1000 460 1200 560 1350 C620 1440 680 1480 700 1530" stroke-width="3" fill="none" vector-effect="non-scaling-stroke"/><path d="M335 905 C310 1000 310 1150 360 1270 C420 1400 520 1480 640 1520" stroke-width="5.5" fill="none" vector-effect="non-scaling-stroke"/><path d="M560 860 L560 880 L650 890 L700 930" stroke-width="2.4" fill="none" vector-effect="non-scaling-stroke"/><path d="M600 990 C640 960 690 970 700 1000 M600 990 C580 1100 620 1220 700 1250" stroke-width="2.6" fill="none" vector-effect="non-scaling-stroke"/><path d="M760 1000 L1120 900 L1140 960 L800 1130 L770 1100 Z" stroke-width="2.6" fill="#fff" vector-effect="non-scaling-stroke" /><path d="M780 1010 L800 1080 L1130 925 M800 1080 L820 1120" stroke-width="2.2" fill="none" vector-effect="non-scaling-stroke"/><path d="M960 1100 C990 1200 990 1350 940 1450 M1060 1030 C1100 1150 1110 1300 1060 1480" stroke-width="2.4" fill="none" vector-effect="non-scaling-stroke"/><path d="M1100 800 L1110 1500 M1130 780 L1140 1490" stroke-width="2" fill="none" vector-effect="non-scaling-stroke"/><path d="M540 1500 L700 1530 L960 1450" stroke-width="2.4" fill="none" vector-effect="non-scaling-stroke"/><path d="M920 1390 L1030 1380 L1050 1410 L920 1440" stroke-width="2.4" fill="none" vector-effect="non-scaling-stroke"/><circle cx="860" cy="570" r="22" stroke-width="6" fill="none" vector-effect="non-scaling-stroke"/><circle cx="880" cy="600" r="12" stroke-width="4" fill="none" vector-effect="non-scaling-stroke"/><circle cx="690" cy="680" r="14" stroke-width="3" fill="none" vector-effect="non-scaling-stroke"/><circle cx="1070" cy="810" r="14" stroke-width="3" fill="none" vector-effect="non-scaling-stroke"/><circle cx="765" cy="1110" r="14" stroke-width="3" fill="none" vector-effect="non-scaling-stroke"/><circle cx="1060" cy="1470" r="14" stroke-width="3" fill="none" vector-effect="non-scaling-stroke"/><circle cx="595" cy="1550" r="16" stroke-width="3" fill="none" vector-effect="non-scaling-stroke"/><circle cx="350" cy="880" r="12" stroke-width="3" fill="none" vector-effect="non-scaling-stroke"/><path d="M940 290 L975 210 L1085 145 L1235 230 L1230 280 L1170 330 L1170 420 L1130 440 L1100 420 L1100 330 L1000 290 L980 350 L945 320 Z" stroke-width="3" fill="#fff" vector-effect="non-scaling-stroke" /><path d="M975 230 L1100 305 L1230 240 M1100 305 L1135 430" stroke-width="2" fill="none" vector-effect="non-scaling-stroke"/><path d="M1160 300 L1210 280 L1210 320" stroke-width="2" fill="none" vector-effect="non-scaling-stroke"/><path d="M600 400 L690 345 M735 320 L735 640 M1110 440 L985 520 M1200 780 L1310 740 M1440 660 L1570 585 M0 1530 L520 1240" stroke-width="2.4" fill="none" stroke-dasharray="10 7" stroke-linecap="butt" vector-effect="non-scaling-stroke"/></g>
<circle cx="1725" cy="866" r="7" stroke-width="2.2" fill="#fff"/><circle cx="1725" cy="866" r="3.5" stroke-width="1.4" fill="none"/><path d="M1713 873 L1718 870 M1732 862 L1735 860" stroke-width="2"/>
<g transform="translate(1859.5,910.2) rotate(25)"><ellipse rx="11" ry="15.5" stroke-width="3" fill="#fff"/><ellipse rx="6.5" ry="9.5" stroke-width="2" fill="none"/><ellipse rx="3" ry="6" fill="#231f20" stroke="none"/></g>
<g transform="translate(1880,760) scale(0.230044)"><path d="M110 180 L260 115 C380 130 470 220 510 330 C540 430 520 540 450 600 L380 635 L300 625 C200 600 130 520 100 430 C80 350 85 250 110 180 Z" stroke-width="3.2" fill="#fff" vector-effect="non-scaling-stroke" /><path d="M260 115 C160 160 100 250 100 340" stroke-width="2" fill="none" vector-effect="non-scaling-stroke"/><path d="M150 175 C330 190 440 320 450 450 C455 540 420 600 380 635" stroke-width="1.6" fill="none" vector-effect="non-scaling-stroke"/><path d="M130 190 L250 560" stroke-width="1.6" fill="none" vector-effect="non-scaling-stroke"/><path d="M235 215 L285 200 L290 330 L240 360 L235 300 Z" stroke-width="2.2" fill="#fff" vector-effect="non-scaling-stroke" /><path d="M235 520 L290 470 L305 560 L260 640 L235 630 Z" stroke-width="2.2" fill="#fff" vector-effect="non-scaling-stroke" /><path d="M280 500 L330 480 L400 600 L380 635 L350 600 Z" stroke-width="2.2" fill="#fff" vector-effect="non-scaling-stroke" /><ellipse cx="235" cy="405" rx="55" ry="62" stroke-width="3" fill="#fff" vector-effect="non-scaling-stroke"/><ellipse cx="235" cy="405" rx="32" ry="40" stroke-width="2.4" fill="#fff" vector-effect="non-scaling-stroke"/><ellipse cx="115" cy="330" rx="42" ry="50" stroke-width="2.8" fill="#fff" vector-effect="non-scaling-stroke"/><path d="M90 320 L105 305 L130 310 L138 335 L122 352 L98 345 Z" stroke-width="2" fill="none" vector-effect="non-scaling-stroke"/><ellipse cx="395" cy="490" rx="42" ry="55" stroke-width="2.8" fill="#fff" vector-effect="non-scaling-stroke"/><path d="M372 480 L388 462 L412 468 L418 495 L402 512 L378 505 Z" stroke-width="2" fill="none" vector-effect="non-scaling-stroke"/><path d="M272 390 L400 325" stroke-width="3.5" vector-effect="non-scaling-stroke" style="stroke-width:3.6px"/><path d="M120 480 L200 450" style="stroke-width:3.6px" vector-effect="non-scaling-stroke"/><path d="M525 420 L555 405" stroke-width="2.4" fill="none" vector-effect="non-scaling-stroke"/><g transform="translate(610,200) rotate(15)"><ellipse rx="50" ry="68" stroke-width="3" fill="#fff" vector-effect="non-scaling-stroke"/><ellipse rx="32" ry="46" stroke-width="2" fill="none" vector-effect="non-scaling-stroke"/><ellipse rx="15" ry="25" stroke-width="2" fill="#231f20" vector-effect="non-scaling-stroke"/></g><g transform="translate(770,120) rotate(15)"><ellipse rx="52" ry="62" stroke-width="3" fill="#fff" vector-effect="non-scaling-stroke"/><path d="M-30 -35 L10 -50 L40 -20 L35 30 L0 50 L-35 25 Z" stroke-width="2.4" fill="#fff" vector-effect="non-scaling-stroke"/><ellipse cx="5" rx="28" ry="42" fill="#231f20" stroke="none"/><path d="M-10 -30 L0 35" stroke="#fff" stroke-width="2" vector-effect="non-scaling-stroke"/></g><g transform="translate(672,565) rotate(15)"><ellipse rx="30" ry="38" stroke-width="2.4" fill="#fff" vector-effect="non-scaling-stroke"/><ellipse rx="18" ry="24" stroke-width="1.8" fill="none" vector-effect="non-scaling-stroke"/><path d="M-15 0 L15 -5" stroke-width="2" vector-effect="non-scaling-stroke"/></g><path d="M745 505 L800 470 L845 440 L870 470 L940 510 L955 530 L905 600 L865 620 L850 560 L805 525 L770 540 Z" stroke-width="2.6" fill="#fff" vector-effect="non-scaling-stroke" /><path d="M800 470 C830 480 840 520 820 540 M850 560 L940 530 M870 470 L850 520" stroke-width="2" fill="none" vector-effect="non-scaling-stroke"/><ellipse cx="760" cy="522" rx="14" ry="18" stroke-width="2.4" fill="#fff" vector-effect="non-scaling-stroke"/><path d="M150 865 L250 810" stroke-width="2.6" fill="none" vector-effect="non-scaling-stroke"/><path d="M160 860 L255 808" style="stroke-width:7px" vector-effect="non-scaling-stroke"/><path d="M165 857 L250 811" stroke="#fff" style="stroke-width:2px;stroke-dasharray:2 2.5" vector-effect="non-scaling-stroke"/><ellipse cx="135" cy="875" rx="32" ry="36" stroke-width="2.6" fill="#fff" vector-effect="non-scaling-stroke"/><path d="M580 385 L580 620 M605 605 L640 590 M295 560 L295 790 L265 800 M700 545 L745 515 M0 590 L25 575" stroke-width="2.4" fill="none" stroke-dasharray="10 7" stroke-linecap="butt" vector-effect="non-scaling-stroke"/></g>
<polyline points="2000.8,1071.7 2022.6,1074" stroke-width="2.5" fill="none"/><polyline points="2022.6,1074 2112.3,1022.3" stroke-width="5" fill="none"/><polyline points="2112.3,1022.3 2140,1027 2141,1007.3" stroke-width="2.6" fill="none"/><polyline points="2141,1006 2144.6,1002.7 2237.7,953.2" stroke-width="5" fill="none"/><polyline points="2237.7,954 2238.9,930.2" stroke-width="2.5" fill="none"/>
<g transform="translate(1540,980) scale(0.121065)"><path d="M75 130 L150 95 L330 205 L330 290 L260 340 C230 380 220 430 220 480 C225 560 250 680 300 760 C340 830 400 900 520 970 C570 995 620 1000 640 1000 C680 1000 700 990 720 960 C745 920 750 860 745 800 C740 740 720 660 680 560 L650 470 L655 420 L690 410 L830 490 C880 510 910 550 935 620 C930 650 900 665 860 665 L830 670 L820 680 C830 740 835 820 830 920 C820 980 800 1000 760 1030 C720 1055 680 1060 640 1060 L570 1055 L570 1160 L530 1190 L480 1175 L445 1110 L440 990 C400 960 350 900 290 820 C240 740 200 640 180 530 C170 450 170 380 180 320 L100 240 Z" stroke-width="3.5" fill="#fff" vector-effect="non-scaling-stroke" /><path d="M200 330 C190 400 195 500 215 600 C240 700 290 800 380 880 C460 950 560 1000 640 1010 M160 140 L310 225 M690 440 L820 515 M800 690 L810 800 L805 900 C800 960 760 1010 680 1030" stroke-width="1.6" fill="none" vector-effect="non-scaling-stroke"/><circle cx="140" cy="195" r="18" stroke-width="2.6" fill="none" vector-effect="non-scaling-stroke"/><circle cx="205" cy="265" r="18" stroke-width="2.6" fill="none" vector-effect="non-scaling-stroke"/><circle cx="780" cy="600" r="18" stroke-width="2.6" fill="none" vector-effect="non-scaling-stroke"/><circle cx="860" cy="610" r="18" stroke-width="2.6" fill="none" vector-effect="non-scaling-stroke"/><circle cx="490" cy="1035" r="18" stroke-width="2.6" fill="none" vector-effect="non-scaling-stroke"/><circle cx="500" cy="1135" r="18" stroke-width="2.6" fill="none" vector-effect="non-scaling-stroke"/><path d="M0 960 L330 770 M400 700 L590 610 M920 465 L1500 120" stroke-width="2.4" fill="none" stroke-dasharray="10 7" stroke-linecap="butt" vector-effect="non-scaling-stroke"/></g>
<g transform="translate(900,1220) scale(0.205804)"><path d="M200 135 L280 100 L415 175 L495 140 L760 250 L700 560 L650 740 L620 790 L240 610 L205 570 Z" stroke-width="3.2" fill="#fff" vector-effect="non-scaling-stroke" /><path d="M235 160 L235 570 L610 760 M235 160 L420 225 L420 195 M420 225 L580 350 L760 260 M300 210 L340 360 L700 570 M580 350 L660 340 L720 570" stroke-width="2.4" fill="none" vector-effect="non-scaling-stroke"/><path d="M260 560 L280 580 L620 740 M270 470 C280 520 300 550 330 560" stroke-width="2" fill="none" vector-effect="non-scaling-stroke"/><path d="M255 420 L330 360 L380 400 L375 430 L290 460 Z" stroke-width="2.4" fill="#fff" vector-effect="non-scaling-stroke"/><path d="M255 420 L290 460 L290 430 Z" fill="#231f20"/><ellipse cx="628" cy="665" rx="42" ry="55" stroke-width="4" fill="#fff" vector-effect="non-scaling-stroke"/><path d="M380 400 L700 560 M290 600 L680 680" stroke-width="2" fill="none" vector-effect="non-scaling-stroke"/><circle cx="440" cy="230" r="12" stroke-width="2" fill="none" vector-effect="non-scaling-stroke"/><g transform="translate(85,560)"><ellipse cx="15" cy="0" rx="55" ry="60" stroke-width="3" fill="#fff" vector-effect="non-scaling-stroke"/><ellipse cx="-5" cy="0" rx="55" ry="62" stroke-width="3.2" fill="#fff" vector-effect="non-scaling-stroke"/><ellipse cx="-5" cy="0" rx="32" ry="38" stroke-width="2.2" fill="none" vector-effect="non-scaling-stroke"/><path d="M-30 0 L20 0 M-5 -30 L-5 30" stroke-width="1.6" vector-effect="non-scaling-stroke"/></g><path d="M170 580 L205 570" stroke-width="2" fill="none" vector-effect="non-scaling-stroke"/><g transform="translate(545,935) rotate(-15)"><ellipse cx="8" cy="0" rx="62" ry="80" stroke-width="3" fill="#fff" vector-effect="non-scaling-stroke"/><ellipse cx="0" cy="0" rx="62" ry="80" stroke-width="3.5" fill="#fff" vector-effect="non-scaling-stroke"/><ellipse cx="0" cy="0" rx="38" ry="52" stroke-width="2.2" fill="none" vector-effect="non-scaling-stroke"/><ellipse cx="0" cy="0" rx="20" ry="36" stroke-width="2" fill="none" vector-effect="non-scaling-stroke"/></g><path d="M640 760 C660 730 720 700 750 760 L770 850 L700 880 Z" stroke-width="2.4" fill="none" vector-effect="non-scaling-stroke"/><path d="M690 880 L700 930 L680 980 L720 1000 L760 960" stroke-width="2" fill="none" vector-effect="non-scaling-stroke"/><path d="M270 1090 L440 1000 M640 1090 L980 910" stroke-width="2.4" fill="none" stroke-dasharray="10 7" stroke-linecap="butt" vector-effect="non-scaling-stroke"/></g>
<g transform="translate(1030,1250) scale(0.121065)"><path d="M900 470 L1300 460 L1390 530 L1370 640 L1360 1010 L1290 1060 L1280 1140 L1490 1170 L1490 1240 L1280 1260 L1200 1580 L1100 1720 L1050 1830 L950 1880 L870 1790 Z" stroke-width="3.5" fill="#fff" vector-effect="non-scaling-stroke" /><path d="M920 300 L900 230 L820 180 L760 150 L600 230 L700 400 L900 470 Z" stroke-width="3.5" fill="#fff" vector-effect="non-scaling-stroke" /><path d="M600 230 L720 300 L880 240 M720 300 L900 470 M790 230 L860 380" stroke-width="3" fill="none" vector-effect="non-scaling-stroke"/><path d="M920 480 L960 560 L1150 500 L1300 460 M1150 500 L1360 640 M1200 560 L1340 530" stroke-width="3" fill="none" vector-effect="non-scaling-stroke"/><path d="M150 180 L270 160 L350 200 L480 270 L600 230 L700 400 L900 470 L1280 780 L1290 1060 L1280 1260 L1200 1580 L1100 1720 L1050 1830 L950 1880 L870 1790 L600 1660 C500 1590 420 1520 400 1500 C330 1400 280 1300 250 1220 C210 1100 185 1000 180 900 L170 500 Z" stroke-width="4" fill="#fff" vector-effect="non-scaling-stroke" /><path d="M270 230 C190 400 190 700 250 950 C320 1200 450 1400 600 1520 C750 1620 900 1660 1020 1640" stroke-width="3" fill="none" vector-effect="non-scaling-stroke"/><path d="M300 350 L1280 780 L1040 930 L1010 1300 L900 1370 C800 1360 700 1300 640 1260 C520 1120 400 900 330 700 C300 600 290 450 300 350 Z" stroke-width="4" fill="#fff" vector-effect="non-scaling-stroke" /><path d="M320 430 L420 780 L560 1100 L640 1220 M340 420 L460 750 L600 1080" stroke-width="2.6" fill="none" vector-effect="non-scaling-stroke"/><path d="M570 540 L580 640 M720 620 L760 720 M860 1000 L860 1300 M920 950 L930 1330 M680 1080 L700 1260 M740 1100 L760 1280" stroke-width="3" fill="none" vector-effect="non-scaling-stroke"/><path d="M880 800 L990 780 L1060 820 L1090 900 L1040 930" stroke-width="3" fill="none" vector-effect="non-scaling-stroke"/><path d="M1030 920 L1060 1100 L1100 1680 M1160 880 C1250 950 1280 1050 1280 1140" stroke-width="3" fill="none" vector-effect="non-scaling-stroke"/><ellipse cx="640" cy="860" rx="155" ry="200" transform="rotate(-25 640 860)" stroke-width="3" fill="#fff" vector-effect="non-scaling-stroke"/><ellipse cx="640" cy="860" rx="125" ry="170" transform="rotate(-25 640 860)" stroke-width="4.5" fill="#fff" vector-effect="non-scaling-stroke"/><ellipse cx="645" cy="860" rx="90" ry="135" transform="rotate(-25 645 860)" stroke-width="3" fill="#fff" vector-effect="non-scaling-stroke"/><path d="M880 1000 C950 1000 960 1100 900 1150 L830 1200" stroke-width="4" fill="none" vector-effect="non-scaling-stroke"/><path d="M1080 1060 a25 25 0 1 1 20 40 M1090 1150 a25 25 0 1 1 20 40" stroke-width="3" fill="none" vector-effect="non-scaling-stroke"/><path d="M0 1900 L160 1820 M240 1780 L380 1700 M420 1380 L490 1340 M540 1300 L590 1280" stroke-width="2.4" fill="none" stroke-dasharray="10 7" stroke-linecap="butt" vector-effect="non-scaling-stroke"/></g>
<g transform="translate(780,1360) scale(0.133174)"><path d="M0 1020 L230 880 M470 1030 L1000 830 M1320 640 L1570 500 M330 1480 L480 1390 M0 1310 L60 1280 M0 1650 L170 1570 M730 1250 L800 1210" stroke-width="2.4" fill="none" stroke-dasharray="10 7" stroke-linecap="butt" vector-effect="non-scaling-stroke"/><path d="M560 230 L720 140 L732 162 L760 260 Z" stroke-width="3" fill="#fff" vector-effect="non-scaling-stroke" /><path d="M660 245 L720 155" stroke-width="1.8" fill="none" vector-effect="non-scaling-stroke"/><path d="M650 250 L800 150 L812 172 L830 300 Z" stroke-width="3" fill="#fff" vector-effect="non-scaling-stroke" /><path d="M740 275 L800 165" stroke-width="1.8" fill="none" vector-effect="non-scaling-stroke"/><path d="M760 300 L920 210 L932 232 L920 360 Z" stroke-width="3" fill="#fff" vector-effect="non-scaling-stroke" /><path d="M840 330 L920 225" stroke-width="1.8" fill="none" vector-effect="non-scaling-stroke"/><path d="M860 370 L1030 290 L1042 312 L1010 440 Z" stroke-width="3" fill="#fff" vector-effect="non-scaling-stroke" /><path d="M935 405 L1030 305" stroke-width="1.8" fill="none" vector-effect="non-scaling-stroke"/><path d="M950 450 L1130 390 L1142 412 L1080 520 Z" stroke-width="3" fill="#fff" vector-effect="non-scaling-stroke" /><path d="M1015 485 L1130 405" stroke-width="1.8" fill="none" vector-effect="non-scaling-stroke"/><path d="M1000 530 L1230 520 L1242 542 L1120 600 Z" stroke-width="3" fill="#fff" vector-effect="non-scaling-stroke" /><path d="M1060 565 L1230 535" stroke-width="1.8" fill="none" vector-effect="non-scaling-stroke"/><path d="M1040 620 L1290 630 L1302 652 L1140 700 Z" stroke-width="3" fill="#fff" vector-effect="non-scaling-stroke" /><path d="M1090 660 L1290 645" stroke-width="1.8" fill="none" vector-effect="non-scaling-stroke"/><path d="M1080 760 L1360 780 L1372 802 L1160 820 Z" stroke-width="3" fill="#fff" vector-effect="non-scaling-stroke" /><path d="M1120 790 L1360 795" stroke-width="1.8" fill="none" vector-effect="non-scaling-stroke"/><path d="M1120 880 L1390 900 L1402 922 L1170 950 Z" stroke-width="3" fill="#fff" vector-effect="non-scaling-stroke" /><path d="M1145 915 L1390 915" stroke-width="1.8" fill="none" vector-effect="non-scaling-stroke"/><path d="M1140 1000 L1410 1050 L1422 1072 L1180 1090 Z" stroke-width="3" fill="#fff" vector-effect="non-scaling-stroke" /><path d="M1160 1045 L1410 1065" stroke-width="1.8" fill="none" vector-effect="non-scaling-stroke"/><path d="M1140 1140 L1390 1180 L1402 1202 L1170 1220 Z" stroke-width="3" fill="#fff" vector-effect="non-scaling-stroke" /><path d="M1155 1180 L1390 1195" stroke-width="1.8" fill="none" vector-effect="non-scaling-stroke"/><path d="M1120 1250 L1360 1260 L1372 1282 L1150 1320 Z" stroke-width="3" fill="#fff" vector-effect="non-scaling-stroke" /><path d="M1135 1285 L1360 1275" stroke-width="1.8" fill="none" vector-effect="non-scaling-stroke"/><path d="M1100 1330 L1340 1310 L1352 1332 L1120 1400 Z" stroke-width="3" fill="#fff" vector-effect="non-scaling-stroke" /><path d="M1110 1365 L1340 1325" stroke-width="1.8" fill="none" vector-effect="non-scaling-stroke"/><path d="M300 320 C420 240 560 210 700 260 C900 330 1080 560 1150 800 C1200 1000 1190 1250 1120 1420 C1080 1500 1020 1540 950 1540 L900 1530 C700 1490 500 1330 380 1120 C260 920 200 700 220 520 C230 430 260 360 300 320 Z" stroke-width="3.5" fill="#fff" vector-effect="non-scaling-stroke" /><path d="M560 230 C800 280 1000 480 1100 760 C1170 980 1170 1250 1100 1460" stroke-width="3" fill="none" vector-effect="non-scaling-stroke"/><path d="M230 430 C250 350 320 300 420 290 C560 290 720 360 850 500 C980 640 1080 850 1120 1060 C1150 1250 1120 1420 1020 1500 C940 1540 860 1530 780 1500 C640 1440 500 1300 400 1120 C300 940 230 760 215 600 C212 530 218 480 230 430 Z" stroke-width="4" fill="#fff" vector-effect="non-scaling-stroke" /><path d="M1060 960 C1100 1100 1110 1250 1080 1420" stroke-width="9" fill="none" vector-effect="non-scaling-stroke"/><path d="M520 470 C600 530 700 590 820 550 M450 330 C600 360 720 440 830 550" stroke-width="3" fill="none" vector-effect="non-scaling-stroke"/><path d="M510 1160 C600 1250 700 1300 800 1300 C880 1300 930 1250 960 1180" stroke-width="3" fill="none" vector-effect="non-scaling-stroke"/><path d="M230 540 C280 560 330 540 360 520 L380 560 L450 580 L500 560 L520 470" stroke-width="3" fill="none" vector-effect="non-scaling-stroke"/><path d="M360 520 L290 850 L330 1000 M370 610 L450 1020" stroke-width="2.6" fill="none" vector-effect="non-scaling-stroke"/><ellipse cx="800" cy="830" rx="100" ry="150" transform="rotate(-20 800 830)" stroke-width="5" fill="#fff" vector-effect="non-scaling-stroke"/><ellipse cx="790" cy="840" rx="70" ry="110" transform="rotate(-20 790 840)" stroke-width="2" fill="none" vector-effect="non-scaling-stroke"/><path d="M330 740 C380 700 560 680 610 700 C620 760 500 840 420 870 Z" stroke-width="3" fill="#fff" vector-effect="non-scaling-stroke"/><ellipse cx="385" cy="790" rx="55" ry="75" transform="rotate(-20 385 790)" fill="#231f20" stroke-width="2" vector-effect="non-scaling-stroke"/><path d="M820 1100 C860 1060 930 1050 960 1080 L1000 1210 C960 1240 900 1240 860 1220 Z" stroke-width="3" fill="#fff" vector-effect="non-scaling-stroke"/><ellipse cx="870" cy="1155" rx="55" ry="75" transform="rotate(-20 870 1155)" fill="#231f20" stroke-width="2" vector-effect="non-scaling-stroke"/><ellipse cx="460" cy="360" rx="18" ry="32" transform="rotate(-20 460 360)" stroke-width="3" fill="#fff" vector-effect="non-scaling-stroke"/><ellipse cx="715" cy="1380" rx="18" ry="32" transform="rotate(-20 715 1380)" stroke-width="3" fill="#fff" vector-effect="non-scaling-stroke"/><ellipse cx="1005" cy="1340" rx="18" ry="32" transform="rotate(-20 1005 1340)" stroke-width="3" fill="#fff" vector-effect="non-scaling-stroke"/><ellipse cx="260" cy="500" rx="18" ry="32" transform="rotate(-20 260 500)" stroke-width="3" fill="#fff" vector-effect="non-scaling-stroke"/><path d="M480 460 L480 500 M520 350 L520 390" stroke-width="3" fill="none" vector-effect="non-scaling-stroke"/><g transform="translate(370,1080) rotate(-20)"><ellipse rx="85" ry="110" stroke-width="4" fill="#fff" vector-effect="non-scaling-stroke"/><ellipse rx="42" ry="62" stroke-width="2.6" fill="none" vector-effect="non-scaling-stroke"/><ellipse rx="20" ry="40" stroke-width="2" fill="none" vector-effect="non-scaling-stroke"/></g><g transform="translate(180,1195) rotate(-20)"><ellipse rx="85" ry="100" stroke-width="4" fill="#fff" vector-effect="non-scaling-stroke"/><ellipse cx="-12" rx="60" ry="80" stroke-width="2" fill="#231f20" fill-opacity="0.35" vector-effect="non-scaling-stroke"/><path d="M-50 -40 L10 -70 M-60 0 L20 -40 M-50 40 L30 -10" stroke-width="1.6" vector-effect="non-scaling-stroke"/></g></g>
<g transform="translate(983,1472) rotate(-28.4)"><path d="M3.0 -3.0 L40.3 -3.0 Q43.1 0 40.3 3.0 L3.0 3.0 Z" fill="#231f20" stroke="none"/><ellipse cx="38.8" cy="0" rx="1.1" ry="1.8" fill="#fff" stroke="none"/><ellipse cx="0" cy="0" rx="6.4" ry="7.5" stroke-width="2.8" fill="#fff"/><ellipse cx="1.9" cy="0" rx="3.4" ry="4.9" fill="#231f20" stroke="none"/><path d="M0.8 -2.2 L3.0 2.2" stroke="#fff" stroke-width="1" fill="none"/></g>
<path d="M1023 1450 L1045 1438" stroke-width="2.4" fill="none" stroke-dasharray="8 6"/>
<g transform="translate(250,1020) scale(0.248201)"><path d="M185 445 C120 520 80 600 100 700 C120 780 200 820 400 860 C500 880 580 890 640 890" fill="none" stroke-width="13" stroke-linecap="round" vector-effect="non-scaling-stroke" style="stroke-width:13px"/><path d="M185 445 C120 520 80 600 100 700 C120 780 200 820 400 860 C500 880 580 890 640 890" fill="none" stroke="#fff" stroke-linecap="round" vector-effect="non-scaling-stroke" style="stroke-width:7.4px"/><ellipse cx="640" cy="890" rx="18" ry="32" stroke-width="3" fill="#fff" vector-effect="non-scaling-stroke"/><path d="M1440 205 C1350 205 1250 260 1150 250 C1080 250 1060 300 1040 370 C1020 420 960 440 910 470 C870 510 850 570 800 600 C760 630 690 650 650 620 C620 590 680 560 740 575 C800 590 850 630 900 650 C960 660 1050 665 1100 650 C1120 640 1110 560 1140 555" fill="none" stroke-width="5" stroke-linecap="round" vector-effect="non-scaling-stroke" style="stroke-width:5px"/><path d="M1440 205 C1350 205 1250 260 1150 250 C1080 250 1060 300 1040 370 C1020 420 960 440 910 470 C870 510 850 570 800 600 C760 630 690 650 650 620 C620 590 680 560 740 575 C800 590 850 630 900 650 C960 660 1050 665 1100 650 C1120 640 1110 560 1140 555" fill="none" stroke="#fff" stroke-linecap="round" vector-effect="non-scaling-stroke" style="stroke-width:1.7999999999999998px"/><path d="M565 125 C700 140 860 170 885 260 C905 350 800 410 600 435 C420 460 300 500 270 600 C250 700 350 760 550 775 C750 780 900 660 1000 570 C1080 500 1180 470 1270 520" fill="none" stroke-width="9.5" stroke-linecap="round" vector-effect="non-scaling-stroke" style="stroke-width:9.5px"/><path d="M565 125 C700 140 860 170 885 260 C905 350 800 410 600 435 C420 460 300 500 270 600 C250 700 350 760 550 775 C750 780 900 660 1000 570 C1080 500 1180 470 1270 520" fill="none" stroke="#fff" stroke-linecap="round" vector-effect="non-scaling-stroke" style="stroke-width:4.3px"/><rect x="1430" y="190" width="110" height="35" stroke-width="2.6" fill="#fff" vector-effect="non-scaling-stroke"/><path d="M1470 198 L1530 198 L1530 218 L1470 218" stroke-width="2" fill="none" vector-effect="non-scaling-stroke"/><rect x="1110" y="540" width="90" height="35" stroke-width="2.6" fill="#fff" vector-effect="non-scaling-stroke"/><rect x="1215" y="535" width="50" height="45" stroke-width="3" fill="#fff" vector-effect="non-scaling-stroke"/><path d="M1150 548 L1190 548 L1190 568 L1150 568" stroke-width="2" fill="none" vector-effect="non-scaling-stroke"/><ellipse cx="485" cy="135" rx="35" ry="48" transform="rotate(20 485 135)" stroke-width="7" fill="none" vector-effect="non-scaling-stroke"/><path d="M470 180 L460 230 L430 230 M510 175 L550 210 L570 200" stroke-width="3.2" fill="none" vector-effect="non-scaling-stroke"/><ellipse cx="1335" cy="955" rx="22" ry="32" transform="rotate(-20 1335 955)" fill="#231f20" stroke-width="2" vector-effect="non-scaling-stroke"/><path d="M1330 935 L1340 975" stroke-width="1.5" fill="none" vector-effect="non-scaling-stroke"/></g>
<g transform="translate(520,1080) scale(0.108956)"><path d="M410 575 L700 395 C730 380 760 385 790 400 L1060 590 L1100 640 L1190 870 L1180 1000 L1090 1260 L970 1330 L1000 1550 L1060 1590 L940 1670 L860 1560 L820 1500 L660 1440 L440 1320 C400 1290 385 1260 385 1220 L370 830 L410 760 Z" stroke-width="4" fill="#fff" vector-effect="non-scaling-stroke" /><path d="M410 575 L700 395 C730 380 760 385 790 400 L1050 590 L760 740 L700 720 L680 880 L660 900 L410 760 Z" stroke-width="3.5" fill="#fff" vector-effect="non-scaling-stroke" /><path d="M700 720 L660 880 M760 740 L820 770" stroke-width="3" fill="none" vector-effect="non-scaling-stroke"/><path d="M820 770 L1070 630 L1085 1250 L820 1370 Z" stroke-width="3.5" fill="#fff" vector-effect="non-scaling-stroke" /><path d="M820 770 C760 900 700 1050 730 1200 C760 1300 800 1350 820 1370" stroke-width="3" fill="none" vector-effect="non-scaling-stroke"/><path d="M1090 660 L1185 880 L1175 1000 L1090 1250" stroke-width="3" fill="none" vector-effect="non-scaling-stroke"/><path d="M870 1000 L1030 930 L1030 1080 L870 1150 Z" fill="#231f20" stroke-width="2" vector-effect="non-scaling-stroke"/><path d="M882 1030 L882 1130" stroke="#fff" stroke-width="2" vector-effect="non-scaling-stroke"/><path d="M410 935 L665 1075 M410 985 L670 1130" stroke-width="3.2" fill="none" vector-effect="non-scaling-stroke"/><path d="M380 1050 L470 1180 L800 1340" stroke-width="3.2" fill="none" vector-effect="non-scaling-stroke"/><path d="M830 1380 L970 1330 L1000 1550 L1060 1590 L940 1670 L860 1560 Z" fill="#231f20" stroke-width="2" vector-effect="non-scaling-stroke"/><path d="M660 1440 L680 1560 L730 1580 L900 1650" stroke-width="3" fill="none" vector-effect="non-scaling-stroke"/><ellipse cx="775" cy="1500" rx="55" ry="40" transform="rotate(20 775 1500)" stroke-width="3" fill="none" vector-effect="non-scaling-stroke"/><path d="M640 1590 L760 1540" stroke-width="3" fill="none" vector-effect="non-scaling-stroke"/></g>
<g transform="translate(525,1281) rotate(-29.2)"><path d="M3.0 -3.0 L37.1 -3.0 Q39.9 0 37.1 3.0 L3.0 3.0 Z" fill="#231f20" stroke="none"/><ellipse cx="35.6" cy="0" rx="1.1" ry="1.8" fill="#fff" stroke="none"/><ellipse cx="0" cy="0" rx="6.4" ry="7.5" stroke-width="2.8" fill="#fff"/><ellipse cx="1.9" cy="0" rx="3.4" ry="4.9" fill="#231f20" stroke="none"/><path d="M0.8 -2.2 L3.0 2.2" stroke="#fff" stroke-width="1" fill="none"/></g>
<path d="M562 1260 L572 1255" stroke-width="2.4" fill="none" stroke-dasharray="6 5"/>
<g transform="translate(150,1600) scale(0.211864)"><path d="M1390 1580 L1600 1480 M1400 1140 L1650 1290" stroke-width="2.4" fill="none" stroke-dasharray="10 7" stroke-linecap="butt" vector-effect="non-scaling-stroke"/><path d="M340 260 L480 178 L520 190 L630 240 L740 295 L740 350 L860 380 L830 450 L880 480 L900 520 L1200 700 L1260 760 L1280 820 L1500 800 L1590 850 L1580 960 L1520 1100 L1520 1420 L1390 1520 L1390 1650 L1357 1690 L1270 1680 L700 1420 C650 1390 620 1360 620 1330 L590 1250 L580 975 L540 950 L420 880 C370 850 345 810 340 760 Z" stroke-width="3.4" fill="#fff" vector-effect="non-scaling-stroke" /><path d="M350 260 L530 380 L530 450 L620 510 L720 460 M340 460 L560 330 M600 290 L640 240 L740 295 M600 290 L600 380 L700 430 M600 380 L580 400" stroke-width="2.4" fill="none" vector-effect="non-scaling-stroke"/><circle cx="590" cy="310" r="40" stroke-width="5" fill="#fff" vector-effect="non-scaling-stroke"/><circle cx="600" cy="320" r="18" stroke-width="2.4" fill="none" vector-effect="non-scaling-stroke"/><path d="M640 350 L760 420 L850 380 M680 360 L700 390 M700 220 L750 220 M780 440 L830 470" stroke-width="2.4" fill="none" vector-effect="non-scaling-stroke"/><path d="M715 520 C720 505 740 500 760 510 L1210 740 C1235 760 1245 790 1245 820 L1250 1350 C1250 1375 1230 1385 1200 1375 L740 1110 C720 1095 710 1080 710 1060 Z" stroke-width="3" fill="#fff" vector-effect="non-scaling-stroke" /><ellipse cx="975" cy="930" rx="245" ry="380" transform="rotate(-27 975 930)" stroke-width="2.6" fill="#fff" vector-effect="non-scaling-stroke"/><ellipse cx="1000" cy="920" rx="215" ry="355" transform="rotate(-27 1000 920)" stroke-width="4.5" fill="#fff" vector-effect="non-scaling-stroke"/><path d="M760 500 L1240 760 M880 480 C1000 520 1150 620 1260 760" stroke-width="3" fill="none" vector-effect="non-scaling-stroke"/><circle cx="750" cy="540" r="14" stroke-width="2.4" fill="none" vector-effect="non-scaling-stroke"/><circle cx="1190" cy="810" r="14" stroke-width="2.4" fill="none" vector-effect="non-scaling-stroke"/><circle cx="1190" cy="1330" r="14" stroke-width="2.4" fill="none" vector-effect="non-scaling-stroke"/><circle cx="750" cy="1070" r="14" stroke-width="2.4" fill="none" vector-effect="non-scaling-stroke"/><circle cx="755" cy="1285" r="14" stroke-width="2.4" fill="none" vector-effect="non-scaling-stroke"/><circle cx="1100" cy="1500" r="14" stroke-width="2.4" fill="none" vector-effect="non-scaling-stroke"/><path d="M730 1270 L780 1210 L1100 1390 L1140 1500 L1090 1560 L770 1390 Z" stroke-width="3" fill="#fff" vector-effect="non-scaling-stroke" /><path d="M790 1240 L940 1300 M990 1320 L1090 1380" stroke-width="2.4" fill="none" vector-effect="non-scaling-stroke"/><ellipse cx="680" cy="1140" rx="35" ry="55" stroke-width="3" fill="none" vector-effect="non-scaling-stroke"/><ellipse cx="680" cy="1230" rx="18" ry="24" stroke-width="2.4" fill="none" vector-effect="non-scaling-stroke"/><ellipse cx="1270" cy="1460" rx="35" ry="55" stroke-width="3" fill="none" vector-effect="non-scaling-stroke"/><ellipse cx="1265" cy="1580" rx="18" ry="24" stroke-width="2.4" fill="none" vector-effect="non-scaling-stroke"/><path d="M1260 820 L1300 810 L1400 880 L1500 800 M1400 880 L1400 990 L1280 1000 M1280 960 L1400 880 M1440 880 L1440 1180 L1590 850 M1330 1030 L1520 1100 M1340 1050 L1400 1690" stroke-width="2.4" fill="none" vector-effect="non-scaling-stroke"/><path d="M1390 1300 L1520 1240 M1390 1420 L1520 1380 M1390 1520 L1520 1440" stroke-width="2.4" fill="none" vector-effect="non-scaling-stroke"/><circle cx="1350" cy="910" r="14" stroke-width="2.4" fill="none" vector-effect="non-scaling-stroke"/><circle cx="1480" cy="930" r="14" stroke-width="2.4" fill="none" vector-effect="non-scaling-stroke"/><circle cx="1370" cy="1110" r="14" stroke-width="2.4" fill="none" vector-effect="non-scaling-stroke"/><path d="M1330 570 L1480 490" style="stroke-width:9px" vector-effect="non-scaling-stroke"/><path d="M1350 562 L1475 494" stroke="#fff" style="stroke-width:3px;stroke-dasharray:2 2.5" vector-effect="non-scaling-stroke"/><g transform="translate(1300,590) rotate(-25)"><ellipse cx="15" rx="50" ry="62" stroke-width="3" fill="#fff" vector-effect="non-scaling-stroke"/><ellipse cx="-10" rx="45" ry="60" stroke-width="3" fill="#fff" vector-effect="non-scaling-stroke"/></g><path d="M1490 490 L1545 455" stroke-width="2.4" fill="none" vector-effect="non-scaling-stroke"/><g transform="translate(1590,385) rotate(-20)"><ellipse rx="70" ry="100" stroke-width="3.4" fill="#fff" vector-effect="non-scaling-stroke"/><ellipse rx="32" ry="52" stroke-width="2.6" fill="none" vector-effect="non-scaling-stroke"/><ellipse cx="8" rx="22" ry="40" stroke-width="2" fill="none" vector-effect="non-scaling-stroke"/></g><ellipse cx="1640" cy="760" rx="50" ry="75" transform="rotate(-20 1640 760)" stroke-width="3" fill="#fff" vector-effect="non-scaling-stroke"/></g>
<g transform="translate(186,1718.6) rotate(-29.5)"><path d="M3.0 -3.2 L34.6 -3.2 Q37.5 0 34.6 3.2 L3.0 3.2 Z" fill="#231f20" stroke="none"/><ellipse cx="33.0" cy="0" rx="1.2" ry="1.9" fill="#fff" stroke="none"/><ellipse cx="0" cy="0" rx="6.4" ry="7.5" stroke-width="2.8" fill="#fff"/><ellipse cx="1.9" cy="0" rx="3.4" ry="4.9" fill="#231f20" stroke="none"/><path d="M0.8 -2.2 L3.0 2.2" stroke="#fff" stroke-width="1" fill="none"/></g>
<g transform="translate(560,1480) scale(0.133174)"><path d="M1120 430 L1650 110 M1530 470 L1650 400 M1570 820 L1650 780" stroke-width="2.4" fill="none" stroke-dasharray="10 7" stroke-linecap="butt" vector-effect="non-scaling-stroke"/><g transform="translate(960,620) rotate(-25)"><ellipse rx="140" ry="178" stroke-width="4" fill="#fff" vector-effect="non-scaling-stroke"/><ellipse cx="6" rx="125" ry="165" stroke-width="1.8" fill="none" vector-effect="non-scaling-stroke"/><ellipse rx="55" ry="88" stroke-width="3.4" fill="none" vector-effect="non-scaling-stroke"/><ellipse cx="5" rx="35" ry="70" stroke-width="2" fill="none" vector-effect="non-scaling-stroke"/></g><g transform="translate(1450,920) rotate(-25)"><ellipse rx="140" ry="178" stroke-width="4" fill="#fff" vector-effect="non-scaling-stroke"/><ellipse cx="6" rx="125" ry="165" stroke-width="1.8" fill="none" vector-effect="non-scaling-stroke"/><ellipse rx="55" ry="88" stroke-width="3.4" fill="none" vector-effect="non-scaling-stroke"/><ellipse cx="5" rx="35" ry="70" stroke-width="2" fill="none" vector-effect="non-scaling-stroke"/></g><path d="M290 1250 L330 1200 L560 1330 L620 1400 L760 1360 L870 1400 L990 1490 L990 1560 L800 1680 C700 1680 600 1650 500 1580 C400 1500 330 1380 290 1250 Z" stroke-width="3.6" fill="#fff" vector-effect="non-scaling-stroke" /><path d="M310 1270 C350 1400 430 1520 560 1600 C640 1640 720 1660 800 1660 M600 1400 L800 1500 L990 1500 M800 1500 L830 1660" stroke-width="2" fill="none" vector-effect="non-scaling-stroke"/><path d="M330 1200 L560 1330 L600 1420 L560 1460 L540 1400 L400 1300" stroke-width="2.4" fill="none" vector-effect="non-scaling-stroke"/><path d="M300 700 L420 600 C480 570 540 560 600 565 C700 580 800 660 870 740 C930 820 980 900 1010 970 L850 1040 L700 980 L600 850 L560 800 L480 840 L330 740 Z" stroke-width="3.6" fill="#fff" vector-effect="non-scaling-stroke" /><path d="M340 690 L440 640 C560 620 700 680 800 780 C880 870 930 950 960 1000 M380 650 C500 630 650 680 760 790 C840 880 880 960 900 1020" stroke-width="2" fill="none" vector-effect="non-scaling-stroke"/><path d="M550 800 L570 790 L590 830" stroke-width="2.4" fill="none" vector-effect="non-scaling-stroke"/><path d="M270 960 L400 880 C450 880 480 920 500 980 C530 1100 580 1200 650 1270 L700 1330 L770 1350 C760 1300 740 1240 740 1180 C740 1110 730 1070 720 1040 L850 1060 L940 1000 L950 1100 L1000 1300 L920 1380 L800 1390 L700 1360 L620 1330 L560 1300 L450 1240 L330 1180 L300 1080 Z" stroke-width="3.4" fill="#fff" vector-effect="non-scaling-stroke" /><ellipse cx="360" cy="1040" rx="50" ry="72" transform="rotate(-20 360 1040)" stroke-width="5" fill="#fff" vector-effect="non-scaling-stroke"/><ellipse cx="360" cy="1040" rx="22" ry="40" transform="rotate(-20 360 1040)" stroke-width="2.6" fill="none" vector-effect="non-scaling-stroke"/><ellipse cx="830" cy="1270" rx="50" ry="72" transform="rotate(-20 830 1270)" stroke-width="5" fill="#fff" vector-effect="non-scaling-stroke"/><ellipse cx="830" cy="1270" rx="22" ry="40" transform="rotate(-20 830 1270)" stroke-width="2.6" fill="none" vector-effect="non-scaling-stroke"/><path d="M560 1160 L680 1290 M600 1210 L650 1340 L700 1330 M760 1150 C800 1140 860 1160 890 1200 M880 1100 L940 1020" stroke-width="2.4" fill="none" vector-effect="non-scaling-stroke"/><rect x="125" y="1330" width="140" height="360" rx="40" stroke-width="4" fill="#fff" vector-effect="non-scaling-stroke"/><path d="M135 1365 Q195 1351 255 1365 M135 1379 Q195 1393 255 1379" stroke-width="2.6" fill="none" vector-effect="non-scaling-stroke"/><path d="M135 1401 Q195 1387 255 1401 M135 1415 Q195 1429 255 1415" stroke-width="2.6" fill="none" vector-effect="non-scaling-stroke"/><path d="M135 1437 Q195 1423 255 1437 M135 1451 Q195 1465 255 1451" stroke-width="2.6" fill="none" vector-effect="non-scaling-stroke"/><path d="M135 1473 Q195 1459 255 1473 M135 1487 Q195 1501 255 1487" stroke-width="2.6" fill="none" vector-effect="non-scaling-stroke"/><path d="M135 1509 Q195 1495 255 1509 M135 1523 Q195 1537 255 1523" stroke-width="2.6" fill="none" vector-effect="non-scaling-stroke"/><path d="M135 1545 Q195 1531 255 1545 M135 1559 Q195 1573 255 1559" stroke-width="2.6" fill="none" vector-effect="non-scaling-stroke"/><path d="M135 1581 Q195 1567 255 1581 M135 1595 Q195 1609 255 1595" stroke-width="2.6" fill="none" vector-effect="non-scaling-stroke"/><path d="M135 1617 Q195 1603 255 1617 M135 1631 Q195 1645 255 1631" stroke-width="2.6" fill="none" vector-effect="non-scaling-stroke"/><path d="M135 1653 Q195 1639 255 1653 M135 1667 Q195 1681 255 1667" stroke-width="2.6" fill="none" vector-effect="non-scaling-stroke"/><path d="M230 1330 C260 1290 250 1240 210 1245 C180 1250 175 1280 190 1285 M170 1690 C140 1730 150 1780 185 1790" stroke-width="3.4" fill="none" vector-effect="non-scaling-stroke"/></g>
<g><path d="M505 1757 L539 1742" stroke-width="7"/><path d="M512 1754 L537 1743" stroke="#fff" stroke-width="1.5" stroke-dasharray="1.5 2"/><ellipse cx="502" cy="1760" rx="10" ry="13" transform="rotate(-25 502 1760)" stroke-width="2.6" fill="#fff"/><ellipse cx="497" cy="1762" rx="9" ry="12" transform="rotate(-25 497 1762)" stroke-width="2.6" fill="#fff"/><g transform="translate(555.4,1723) rotate(-20)"><ellipse rx="17" ry="23" stroke-width="3" fill="#fff"/><ellipse rx="7" ry="11" stroke-width="2" fill="none"/><ellipse cx="1.5" rx="4" ry="8" stroke-width="1.5" fill="none"/></g></g>
<polyline points="361.6,1637.6 363,1614.4" stroke-width="2.6" fill="none"/><polyline points="363,1614.4 567.9,1496.7" stroke-width="5.2" fill="none"/><polyline points="567.9,1497 569.3,1474.9 597,1480.7" stroke-width="2.6" fill="none"/><polyline points="597,1480.7 793,1363" stroke-width="5.2" fill="none"/><polyline points="793,1363 819.2,1366" stroke-width="2.6" fill="none"/>
<path d="M472.3 1923 L486.6 1916.3 M504.8 1904.2 L510 1902 M512.4 1880 L574.4 1913.3 M595.6 1925.4 L622.8 1942" stroke-width="2.4" fill="none" stroke-dasharray="8 6"/><circle cx="495" cy="1909.5" r="8.3" stroke-width="2.6" fill="#fff"/><circle cx="495" cy="1909.5" r="5" fill="#231f20" fill-opacity="0.5"/><path d="M586.5 1943.6 C590 1960 594 1985 597 2001 C599 2015 599 2030 594 2046.5 C590 2055 580 2060 568.4 2064.6" stroke-width="4" fill="none"/><path d="M576 1911.8 L591 1906.5 L597 1914.8 L595.6 1925.4 L589.5 1927 L589.5 1943.6 L580.5 1943.6 L579 1931.5 L576 1925.4 Z" stroke-width="2.4" fill="#fff"/><path d="M581 1913 L590 1910 L590 1925 M581 1930 L588 1930" stroke-width="1.6" fill="none"/><ellipse cx="632" cy="1946.6" rx="9" ry="11.4" transform="rotate(20 632 1946.6)" stroke-width="2.6" fill="#fff"/><ellipse cx="632" cy="1946.6" rx="4" ry="6" stroke-width="1.6" fill="none"/><ellipse cx="554" cy="1992.7" rx="9" ry="11.4" transform="rotate(20 554 1992.7)" stroke-width="2.6" fill="#fff"/><ellipse cx="554" cy="1992.7" rx="4" ry="6" stroke-width="1.6" fill="none"/><line x1="694" y1="1981.4" x2="662.2" y2="1964.7" stroke-width="10" stroke-linecap="round"/><line x1="684.5" y1="1976.4" x2="665.4" y2="1966.4" stroke="#fff" stroke-width="1" stroke-dasharray="1 2.5"/><ellipse cx="694" cy="1981.4" rx="10" ry="12.5" transform="rotate(-30 694 1981.4)" stroke-width="2.8" fill="#fff"/><ellipse cx="696" cy="1982.4" rx="6" ry="8" transform="rotate(-30 694 1981.4)" fill="#231f20"/><line x1="616.8" y1="2028.3" x2="588" y2="2011.7" stroke-width="10" stroke-linecap="round"/><line x1="608.2" y1="2023.3" x2="590.9" y2="2013.4" stroke="#fff" stroke-width="1" stroke-dasharray="1 2.5"/><ellipse cx="616.8" cy="2028.3" rx="10" ry="12.5" transform="rotate(-30 616.8 2028.3)" stroke-width="2.8" fill="#fff"/><ellipse cx="618.8" cy="2029.3" rx="6" ry="8" transform="rotate(-30 616.8 2028.3)" fill="#231f20"/>
<path d="M445.5 2232.7 L461 2225.9 L482.3 2237.5 L482.3 2242.3 L479.4 2245 L479.4 2256.9 Q570 2243 612 2226 Q620 2222 621.8 2217.2 L621.8 2159 L637.3 2150.3 L662.4 2165.8 L645 2176.5 L645 2186.2 L699.3 2220 L701.2 2205.5 L720.6 2196.8 L738 2211.4 L720.6 2219.1 L720.6 2277.2 L716.7 2286.9 Q660 2335 585 2360.5 L461 2288.8 L461 2248.2 Z" stroke-width="3" fill="#fff"/><path d="M479.4 2256.9 L546.2 2292.7 L563.7 2283 L585 2294.6 L585 2298.5 L585 2360.5" stroke-width="3" fill="none"/><path d="M481 2252 L546 2289" stroke-width="2" fill="none"/><path d="M546.2 2292.7 L567 2303 L585 2298.5" stroke-width="2.4" fill="none"/><path d="M582 2300 L582 2358 M645 2178 L647 2190 L699 2222" stroke-width="1.6" fill="none"/><path d="M447 2237 L461 2244 L482 2240 M622 2160 L642 2170 L662 2166 M701 2207 L720 2217 L738 2212" stroke-width="1.8" fill="none"/><path d="M621.8 2225 L710.9 2277.2 M621.8 2229 L708 2280" stroke-width="1.8" fill="none"/><path d="M587 2357 Q658 2331 715 2284" stroke-width="1.6" fill="none"/><circle cx="464" cy="2235.6" r="2.8" stroke-width="1.8" fill="none"/><circle cx="567.5" cy="2293.7" r="2.8" stroke-width="1.8" fill="none"/><circle cx="642" cy="2161" r="2.8" stroke-width="1.8" fill="none"/><circle cx="720.6" cy="2207.5" r="2.8" stroke-width="1.8" fill="none"/><ellipse cx="606.3" cy="2293.7" rx="11.6" ry="6.8" stroke-width="3" fill="#fff"/><path d="M701.2 2163 L724.4 2146.5 L741.9 2159 L741.9 2165.8 L718.6 2177.5 L701.2 2167.8 Z" stroke-width="2.6" fill="#fff"/><path d="M701.2 2163 L718.6 2172.5 L741.9 2159 M718.6 2172.5 L718.6 2177.5" stroke-width="1.6" fill="none"/><circle cx="721" cy="2158" r="2" fill="#231f20"/><path d="M720.6 2130 L720.6 2138.7 M719.6 2178.4 L719.6 2196.8 M719.6 2211 L719.6 2289" stroke-width="2" fill="none"/><ellipse cx="720.6" cy="2311" rx="15.5" ry="8.7" stroke-width="2.8" fill="#fff"/><ellipse cx="720.6" cy="2311" rx="8" ry="4.5" stroke-width="1.8" fill="none"/><path d="M720.6 2303 L720.6 2319" stroke-width="1.6"/><rect x="717" y="2331.5" width="7.5" height="36" rx="3" stroke-width="2.4" fill="#fff"/><path d="M718 2336 L724 2336 M718 2340 L724 2340 M718 2344 L724 2344 M718 2348 L724 2348 M718 2352 L724 2352 M718 2356 L724 2356 M718 2360 L724 2360" stroke-width="1.2"/><path d="M711 2368 L716 2363 L726 2363 L731 2368 L731 2374 L726 2378 L716 2378 L711 2374 Z" stroke-width="2.4" fill="#fff"/><path d="M711 2368 L731 2368" stroke-width="1.5"/>
<path d="M1092.5 1810 L1092.5 1814 L1265 1917 L1507.5 1774 L1507.5 1770" stroke-width="3" fill="#fff"/><path d="M1092.5 1810 L1335 1670 L1507.5 1770 L1265 1912.5 Z" stroke-width="3" fill="#fff"/><path d="M1357.5 1685 L1262 1810 C1252 1825 1255 1835 1268 1843 L1322.5 1872.5 M1362 1688 L1267 1812 C1259 1824 1262 1831 1272 1838 L1326 1868" stroke-width="2" fill="none"/><path d="M1317.5 1747.5 L1340 1720 L1370 1727.5 L1347.5 1757.5 Z" stroke-width="2" fill="#fff"/><path d="M1260 1790 q4 -4 8 -2 q4 -3 8 -5 M1266 1798 q4 -3 8 -3 q3 -3 7 -4 M1283 1800 q4 -4 8 -2 q4 -3 8 -5 M1289 1808 q4 -3 8 -3 q3 -3 7 -4" stroke-width="1" fill="none"/>
<g transform="translate(1200,2060) scale(0.278474)"><path d="M55 370 L130 295 L490 85 L530 80 L680 130 C650 150 650 180 695 190 C720 250 760 300 870 370 L1060 430 C1100 410 1130 420 1170 440 C1200 450 1240 430 1260 400 C1280 370 1290 340 1300 330 L1350 230 L1450 215 L1550 260 L1555 300 L1520 390 C1510 420 1500 450 1500 500 C1490 560 1480 600 1460 650 C1430 720 1400 760 1370 790 C1320 840 1250 890 1150 960 L1000 1040 C950 1065 920 1080 880 1080 C850 1078 820 1070 780 1050 L400 900 C300 850 200 780 150 720 C100 680 70 650 62 600 L55 520 Z" stroke-width="3.4" fill="#fff" vector-effect="non-scaling-stroke" /><path d="M70 370 C90 400 110 430 150 440 C190 440 220 410 250 380 C270 340 300 305 370 298 C420 295 470 320 490 340 C520 390 560 430 620 470 C680 500 740 520 820 515" stroke-width="3" fill="none" vector-effect="non-scaling-stroke"/><path d="M150 460 C160 500 170 510 200 500 L340 390 C370 380 410 385 440 410 C480 450 520 480 580 520 L870 620 L1130 700" stroke-width="3" fill="none" vector-effect="non-scaling-stroke"/><path d="M180 480 L700 820 L720 770 L780 720 L830 660" stroke-width="2.6" fill="none" vector-effect="non-scaling-stroke"/><path d="M70 520 C80 560 120 590 160 610 L420 760 L700 880 L780 920" stroke-width="2.6" fill="none" vector-effect="non-scaling-stroke"/><path d="M130 310 L270 390 M170 285 L250 330 M490 330 L700 220" stroke-width="2.6" fill="none" vector-effect="non-scaling-stroke"/><path d="M1170 590 L1270 540 M1170 720 L1330 600 M1160 850 L1330 760 M1230 460 C1300 520 1360 620 1370 760 C1370 800 1360 830 1340 850 M1340 440 C1390 520 1420 620 1400 760" stroke-width="2.6" fill="none" vector-effect="non-scaling-stroke"/><path d="M760 520 C820 530 840 500 850 470" stroke-width="2.4" fill="none" vector-effect="non-scaling-stroke"/><rect x="205" y="600" width="90" height="38" rx="18" transform="rotate(30 250 619)" stroke-width="3" fill="#231f20" vector-effect="non-scaling-stroke"/><path d="M220 605 L285 640" stroke="#fff" stroke-width="2" vector-effect="non-scaling-stroke"/><rect x="490" y="770" width="90" height="38" rx="18" transform="rotate(30 535 789)" stroke-width="3" fill="#231f20" vector-effect="non-scaling-stroke"/><path d="M505 775 L570 810" stroke="#fff" stroke-width="2" vector-effect="non-scaling-stroke"/><path d="M830 660 L870 570 L1050 560 L1140 600 L1130 860 L1090 950 C1040 970 990 990 920 990 C880 985 840 980 800 960 C790 930 800 900 790 880 C780 850 800 820 810 790 C820 760 800 740 830 700 Z" stroke-width="3" fill="#fff" vector-effect="non-scaling-stroke" /><path d="M1050 545 L1150 590 L1145 860 L1085 965" stroke-width="3" fill="none" vector-effect="non-scaling-stroke"/><path d="M790 730 L830 740" stroke-width="2.4" fill="none" vector-effect="non-scaling-stroke"/><path d="M890 560 L905 760" style="stroke-width:7px" vector-effect="non-scaling-stroke"/><path d="M890 562 L905 758" stroke="#fff" style="stroke-width:2.5px" vector-effect="non-scaling-stroke"/><path d="M980 570 L985 790" style="stroke-width:7px" vector-effect="non-scaling-stroke"/><path d="M980 572 L985 788" stroke="#fff" style="stroke-width:2.5px" vector-effect="non-scaling-stroke"/><ellipse cx="968" cy="765" rx="18" ry="24" fill="#231f20" stroke="none"/><path d="M935 880 C935 860 1030 860 1030 880 L1030 930 C1030 960 935 960 935 930 Z" stroke-width="3" fill="#fff" vector-effect="non-scaling-stroke" /><ellipse cx="982" cy="878" rx="47" ry="18" stroke-width="3" fill="#fff" vector-effect="non-scaling-stroke"/><path d="M975 860 L975 830 L990 830 L990 860" stroke-width="3" fill="#fff" vector-effect="non-scaling-stroke"/><path d="M880 1020 L905 1050" stroke-width="2.4" fill="none" vector-effect="non-scaling-stroke"/><ellipse cx="955" cy="500" rx="135" ry="48" stroke-width="3" fill="#fff" vector-effect="non-scaling-stroke"/><ellipse cx="950" cy="440" rx="105" ry="60" stroke-width="3" fill="#d1d3d4" vector-effect="non-scaling-stroke"/><ellipse cx="945" cy="430" rx="80" ry="42" stroke-width="2.6" fill="#d1d3d4" vector-effect="non-scaling-stroke"/><path d="M820 500 L830 460 M1090 500 L1055 460" stroke-width="2.4" fill="none" vector-effect="non-scaling-stroke"/><path d="M900 15 L920 440" style="stroke-width:8px" vector-effect="non-scaling-stroke"/><path d="M900 18 L920 438" stroke="#fff" style="stroke-width:3px" vector-effect="non-scaling-stroke"/><path d="M973 45 L985 440" style="stroke-width:8px" vector-effect="non-scaling-stroke"/><path d="M973 48 L985 438" stroke="#fff" style="stroke-width:3px" vector-effect="non-scaling-stroke"/><path d="M915 230 L920 440" style="stroke-width:6px" vector-effect="non-scaling-stroke"/><path d="M1330 260 L1350 230 C1380 215 1450 210 1520 240 L1555 275 L1540 320 L1520 390 C1480 410 1390 400 1330 360 C1310 340 1315 290 1330 260 Z" stroke-width="3" fill="#fff" vector-effect="non-scaling-stroke" /><ellipse cx="1450" cy="258" rx="95" ry="40" transform="rotate(10 1450 258)" stroke-width="6" fill="#fff" vector-effect="non-scaling-stroke"/><path d="M1345 300 C1400 330 1480 335 1540 305" stroke-width="1.8" fill="none" vector-effect="non-scaling-stroke"/><path d="M1348 314 C1400 344 1480 347 1540 317" stroke-width="1.8" fill="none" vector-effect="non-scaling-stroke"/><path d="M1351 328 C1400 358 1480 359 1540 329" stroke-width="1.8" fill="none" vector-effect="non-scaling-stroke"/><path d="M1354 342 C1400 372 1480 371 1540 341" stroke-width="1.8" fill="none" vector-effect="non-scaling-stroke"/><path d="M1357 356 C1400 386 1480 383 1540 353" stroke-width="1.8" fill="none" vector-effect="non-scaling-stroke"/><path d="M1360 370 C1400 400 1480 395 1540 365" stroke-width="1.8" fill="none" vector-effect="non-scaling-stroke"/></g>
<path d="M1682 2222 L1449 2080 M1682 2222 L1478 2127 M1682 2222 L1456 2150 M1682 2222 L1497 2195" stroke-width="2.2" fill="none"/>
<polyline points="1820,2054 1861,2095 1861,2227.5 1592.5,2378.5 1567.5,2378.5" stroke-width="2.8" fill="none"/>
<g><path d="M1639 1950 C1636 1930 1650 1920 1668 1920 C1690 1920 1706 1932 1706 1952 L1702 1982 C1695 1995 1665 1998 1648 1990 C1638 1985 1634 1978 1636 1970 Z" stroke-width="3.5" fill="#fff"/><path d="M1645 1930 C1660 1924 1685 1925 1700 1935" stroke-width="2.5" fill="none"/><path d="M1640 1978 C1660 1992 1690 1990 1703 1978" stroke-width="5" fill="none"/><path d="M1650 1935 L1648 1985 M1662 1930 L1662 1990 M1676 1930 L1678 1990 M1690 1932 L1692 1986 M1640 1955 L1705 1955 M1640 1968 L1704 1968" stroke-width="2.6" fill="none"/><path d="M1655 1995 C1640 2005 1625 2020 1618 2035 C1612 2048 1612 2058 1622 2066" stroke-width="3.5" fill="none" stroke-dasharray="3 1.2"/><ellipse cx="1622" cy="2087" rx="14" ry="24" transform="rotate(15 1622 2087)" stroke-width="3.2" fill="#fff"/><path d="M1612 2090 L1625 2068 M1615 2102 L1632 2074 M1622 2106 L1634 2086" stroke-width="2.4"/></g>
<path d="M1468 1139 L1540 1096" stroke-width="2.4" fill="none" stroke-dasharray="8 6"/>
<path d="M927 341 L946 351" stroke-width="2.4" fill="none" stroke-dasharray="8 6"/>
<path d="M1174 1302 L1197 1291" stroke-width="2.4" fill="none" stroke-dasharray="8 6"/>
</g>
<g fill="none" stroke="#231f20" stroke-width="2.6" stroke-linejoin="miter" stroke-linecap="butt">
<polyline points="1035,111 1082,111 1131,134"/>
<polyline points="1034,157 1070,157 1070,250"/>
<polyline points="692,209 745,239"/>
<polyline points="714,317 772,350"/>
<polyline points="972,290 972,380"/>
<polyline points="1585,154 1506,109"/>
<polyline points="1604,372 1553,400"/>
<polyline points="1644,424 1586,455"/>
<polyline points="1432,404 1457,404 1460,475"/>
<polyline points="1237,442 1257,442 1295,453"/>
<polyline points="970,607 1050,564"/>
<polyline points="1484,590 1430,620"/>
<polyline points="1467,680 1367,732"/>
<polyline points="1203,791 1248,791 1288,818"/>
<polyline points="1156,856.5 1247,856.5 1290,886"/>
<polyline points="1079,738 1176,738 1232,704"/>
<polyline points="1201,912 1235,912 1264,932"/>
<polyline points="1201,964 1231,964 1241,957"/>
<polyline points="1678,768 1703,768 1801,825"/>
<polyline points="1661,844 1686,844 1721,862"/>
<polyline points="1841,782 1853,900"/>
<polyline points="1987,725 2008.8,786.5"/>
<polyline points="2022,717 2044.5,777.3"/>
<polyline points="2166.4,936 2094,893.4"/>
<polyline points="2128.4,952 2038.7,900.3"/>
<polyline points="2022.6,1014.2 1927,959"/>
<polyline points="2120.4,995.8 1967.4,906"/>
<polyline points="1831,1092 1758,1050"/>
<polyline points="1726,1145 1643,1095"/>
<polyline points="1518,1202 1463,1172"/>
<polyline points="1395,978.6 1381.6,978.6 1381.6,1058"/>
<polyline points="1432,1101 1384,1101 1352,1177"/>
<polyline points="1168,1182 1201,1182 1241,1210"/>
<polyline points="1112,1230 1156,1230 1198,1265"/>
<polyline points="322,1020 360,1045"/>
<polyline points="682,997 545,1080"/>
<polyline points="682,1055 550,1132"/>
<polyline points="682,1102 605,1150"/>
<polyline points="531,1227 577,1252"/>
<polyline points="484,1255 524,1280"/>
<polyline points="287,1265 327,1240"/>
<polyline points="870,1236 945,1277"/>
<polyline points="862,1301 910,1325"/>
<polyline points="865,1337 995,1400"/>
<polyline points="776,1448 820,1490"/>
<polyline points="807,1530 807,1606 878,1640"/>
<polyline points="1061,1541 998,1508 998,1473"/>
<polyline points="592,1545 617,1559"/>
<polyline points="175,1640 220,1662"/>
<polyline points="171,1690 192,1702"/>
<polyline points="395,1684 440,1706"/>
<polyline points="795,1725 747,1704 747,1620"/>
<polyline points="702,1809 590,1755 590,1722"/>
<polyline points="616,1842 560,1810 560,1742"/>
<polyline points="703,1897.4 642.5,1933.7"/>
<polyline points="757,1937 694,1969.3"/>
<polyline points="494.2,1947.3 494.2,1919.3"/>
<polyline points="554,2061.6 554,2008.6"/>
<polyline points="610.7,2096 610.7,2040.4"/>
<polyline points="812,2222 735,2180"/>
<polyline points="810,2359 735,2317"/>
<polyline points="802,2420 730,2377"/>
<polyline points="444.5,2361.5 515.2,2320.8"/>
<polyline points="1179,1678 1252,1715"/>
<polyline points="1737,2085 1693,1995"/>
<polyline points="1737,2085 1626,2025"/>
<polyline points="1737,2085 1644,2093"/>
<polyline points="1775,2312 1747,2295"/>
<polyline points="1571.8,2349.6 1534.2,2349.6 1489.6,2323.2"/>

</g>
<g font-family="Liberation Sans" font-weight="bold" fill="#231f20" style="font-kerning:none">
<text transform="translate(988.3,126.6) scale(0.900,1)" font-size="39.46">38</text>
<text transform="translate(986.9,172.6) scale(0.957,1)" font-size="39.46">51</text>
<g transform="translate(986.9,172.6) scale(0.957,1)"><rect x="21.94" y="-4.42" width="8.92" height="7.18" fill="#fff"/><rect x="36.70" y="-4.42" width="7.18" height="7.18" fill="#fff"/></g>
<text transform="translate(1584.3,175.6) scale(0.977,1)" font-size="38.0">37</text>
<text transform="translate(659.6,206.6) scale(0.974,1)" font-size="36.54">69</text>
<text transform="translate(673.3,319.6) scale(0.981,1)" font-size="36.54">39</text>
<text transform="translate(951.5,286.6) scale(0.996,1)" font-size="38.0">67</text>
<text transform="translate(1603.2,378.0) scale(1.030,1)" font-size="39.46">41</text>
<g transform="translate(1603.2,378.0) scale(1.030,1)"><rect x="21.94" y="-4.42" width="8.92" height="7.18" fill="#fff"/><rect x="36.70" y="-4.42" width="7.18" height="7.18" fill="#fff"/></g>
<text transform="translate(1643.3,424.0) scale(0.932,1)" font-size="39.46">42</text>
<text transform="translate(1382.3,416.6) scale(0.981,1)" font-size="36.54">43</text>
<text transform="translate(1194.3,456.0) scale(0.942,1)" font-size="38.0">44</text>
<text transform="translate(925.3,628.6) scale(1.007,1)" font-size="36.54">40</text>
<text transform="translate(1485.2,586.6) scale(1.083,1)" font-size="36.54">31</text>
<g transform="translate(1485.2,586.6) scale(1.083,1)"><rect x="20.32" y="-4.09" width="8.26" height="6.65" fill="#fff"/><rect x="33.99" y="-4.09" width="6.65" height="6.65" fill="#fff"/></g>
<text transform="translate(1466.3,678.6) scale(0.997,1)" font-size="36.54">45</text>
<text transform="translate(1003.9,828.6) scale(0.941,1)" font-size="39.46">50</text>
<text transform="translate(1161.3,805.6) scale(0.932,1)" font-size="39.46">46</text>
<text transform="translate(1078.3,893.6) scale(0.932,1)" font-size="39.46">49</text>
<text transform="translate(1626.5,777.6) scale(0.977,1)" font-size="38.0">68</text>
<text transform="translate(1613.2,855.6) scale(1.041,1)" font-size="38.0">31</text>
<g transform="translate(1613.2,855.6) scale(1.041,1)"><rect x="21.13" y="-4.26" width="8.59" height="6.92" fill="#fff"/><rect x="35.34" y="-4.26" width="6.92" height="6.92" fill="#fff"/></g>
<text transform="translate(1820.0,767.6) scale(0.902,1)" font-size="38.0">23</text>
<text transform="translate(1966.5,717.6) scale(0.987,1)" font-size="38.0">6</text>
<text transform="translate(1994.3,702.6) scale(1.016,1)" font-size="38.0">19</text>
<g transform="translate(1994.3,702.6) scale(1.016,1)"><rect x="0.00" y="-4.26" width="8.59" height="6.92" fill="#fff"/><rect x="14.21" y="-4.26" width="6.92" height="6.92" fill="#fff"/></g>
<text transform="translate(2172.3,957.6) scale(0.917,1)" font-size="38.0">34</text>
<text transform="translate(2129.3,977.6) scale(0.919,1)" font-size="38.0">33</text>
<text transform="translate(2022.3,1039.6) scale(0.968,1)" font-size="38.0">32</text>
<text transform="translate(2145.3,1054.6) scale(0.935,1)" font-size="38.0">35</text>
<text transform="translate(1456.9,1034.6) scale(0.943,1)" font-size="38.0">28</text>
<text transform="translate(1835.0,1110.6) scale(0.919,1)" font-size="38.0">25</text>
<text transform="translate(1727.3,1161.6) scale(0.943,1)" font-size="38.0">30</text>
<text transform="translate(1519.9,1224.6) scale(0.884,1)" font-size="40.92">29</text>
<text transform="translate(1161.3,928.0) scale(0.941,1)" font-size="39.46">47</text>
<text transform="translate(1161.3,979.6) scale(0.891,1)" font-size="40.92">48</text>
<text transform="translate(1393.9,992.0) scale(0.902,1)" font-size="39.46">27</text>
<text transform="translate(1123.9,1195.6) scale(0.917,1)" font-size="39.46">26</text>
<text transform="translate(1055.9,1241.6) scale(0.917,1)" font-size="39.46">29</text>
<text transform="translate(278.3,1020.6) scale(1.016,1)" font-size="38.0">16</text>
<g transform="translate(278.3,1020.6) scale(1.016,1)"><rect x="0.00" y="-4.26" width="8.59" height="6.92" fill="#fff"/><rect x="14.21" y="-4.26" width="6.92" height="6.92" fill="#fff"/></g>
<text transform="translate(689.4,994.0) scale(0.938,1)" font-size="39.46">17</text>
<g transform="translate(689.4,994.0) scale(0.938,1)"><rect x="0.00" y="-4.42" width="8.92" height="7.18" fill="#fff"/><rect x="14.76" y="-4.42" width="7.18" height="7.18" fill="#fff"/></g>
<text transform="translate(678.4,1059.0) scale(0.950,1)" font-size="39.46">14</text>
<g transform="translate(678.4,1059.0) scale(0.950,1)"><rect x="0.00" y="-4.42" width="8.92" height="7.18" fill="#fff"/><rect x="14.76" y="-4.42" width="7.18" height="7.18" fill="#fff"/></g>
<text transform="translate(678.3,1108.6) scale(0.979,1)" font-size="39.46">13</text>
<g transform="translate(678.3,1108.6) scale(0.979,1)"><rect x="0.00" y="-4.42" width="8.92" height="7.18" fill="#fff"/><rect x="14.76" y="-4.42" width="7.18" height="7.18" fill="#fff"/></g>
<text transform="translate(492.4,1226.0) scale(0.964,1)" font-size="38.0">12</text>
<g transform="translate(492.4,1226.0) scale(0.964,1)"><rect x="0.00" y="-4.26" width="8.59" height="6.92" fill="#fff"/><rect x="14.21" y="-4.26" width="6.92" height="6.92" fill="#fff"/></g>
<text transform="translate(442.2,1257.0) scale(1.114,1)" font-size="36.54">11</text>
<g transform="translate(442.2,1257.0) scale(1.114,1)"><rect x="0.00" y="-4.09" width="8.26" height="6.65" fill="#fff"/><rect x="13.67" y="-4.09" width="6.65" height="6.65" fill="#fff"/><rect x="20.32" y="-4.09" width="8.26" height="6.65" fill="#fff"/><rect x="33.99" y="-4.09" width="6.65" height="6.65" fill="#fff"/></g>
<text transform="translate(242.5,1295.6) scale(0.919,1)" font-size="39.46">15</text>
<g transform="translate(242.5,1295.6) scale(0.919,1)"><rect x="0.00" y="-4.42" width="8.92" height="7.18" fill="#fff"/><rect x="14.76" y="-4.42" width="7.18" height="7.18" fill="#fff"/></g>
<text transform="translate(825.0,1236.6) scale(0.919,1)" font-size="38.0">25</text>
<text transform="translate(824.0,1300.0) scale(0.868,1)" font-size="39.46">24</text>
<text transform="translate(823.9,1341.6) scale(0.927,1)" font-size="38.0">23</text>
<text transform="translate(756.7,1442.7) scale(1.037,1)" font-size="32.15">6</text>
<text transform="translate(874.4,1655.6) scale(0.990,1)" font-size="38.0">19</text>
<g transform="translate(874.4,1655.6) scale(0.990,1)"><rect x="0.00" y="-4.26" width="8.59" height="6.92" fill="#fff"/><rect x="14.21" y="-4.26" width="6.92" height="6.92" fill="#fff"/></g>
<text transform="translate(1061.9,1556.6) scale(0.952,1)" font-size="38.0">20</text>
<text transform="translate(514.5,1470.6) scale(0.955,1)" font-size="38.0">18</text>
<g transform="translate(514.5,1470.6) scale(0.955,1)"><rect x="0.00" y="-4.26" width="8.59" height="6.92" fill="#fff"/><rect x="14.21" y="-4.26" width="6.92" height="6.92" fill="#fff"/></g>
<text transform="translate(572.9,1544.6) scale(1.005,1)" font-size="36.54">9</text>
<text transform="translate(152.9,1637.0) scale(0.931,1)" font-size="39.46">2</text>
<text transform="translate(151.5,1690.0) scale(1.368,1)" font-size="36.54">1</text>
<g transform="translate(151.5,1690.0) scale(1.368,1)"><rect x="0.00" y="-4.09" width="8.26" height="6.65" fill="#fff"/><rect x="13.67" y="-4.09" width="6.65" height="6.65" fill="#fff"/></g>
<text transform="translate(375.5,1685.0) scale(0.936,1)" font-size="40.92">7</text>
<text transform="translate(804.4,1739.6) scale(0.943,1)" font-size="39.46">10B</text>
<g transform="translate(804.4,1739.6) scale(0.943,1)"><rect x="0.00" y="-4.42" width="8.92" height="7.18" fill="#fff"/><rect x="14.76" y="-4.42" width="7.18" height="7.18" fill="#fff"/></g>
<text transform="translate(711.0,1825.6) scale(0.862,1)" font-size="39.46">8</text>
<text transform="translate(625.4,1864.6) scale(0.952,1)" font-size="39.46">10A</text>
<g transform="translate(625.4,1864.6) scale(0.952,1)"><rect x="0.00" y="-4.42" width="8.92" height="7.18" fill="#fff"/><rect x="14.76" y="-4.42" width="7.18" height="7.18" fill="#fff"/></g>
<text transform="translate(715.9,1896.6) scale(1.040,1)" font-size="36.54">5</text>
<text transform="translate(765.3,1940.0) scale(0.943,1)" font-size="38.0">4</text>
<text transform="translate(486.3,1981.6) scale(0.947,1)" font-size="38.0">3</text>
<text transform="translate(547.9,2097.6) scale(0.947,1)" font-size="38.0">5</text>
<text transform="translate(601.3,2130.0) scale(0.981,1)" font-size="36.54">4</text>
<text transform="translate(824.9,2246.6) scale(0.941,1)" font-size="39.46">59</text>
<text transform="translate(819.9,2359.6) scale(0.908,1)" font-size="39.46">58</text>
<text transform="translate(808.9,2438.6) scale(0.893,1)" font-size="40.92">57</text>
<text transform="translate(404.9,2387.6) scale(0.917,1)" font-size="39.46">56</text>
<text transform="translate(1137.5,1677.6) scale(0.891,1)" font-size="40.92">64</text>
<text transform="translate(1750.9,2100.6) scale(0.950,1)" font-size="38.0">54</text>
<text transform="translate(1688.9,2243.6) scale(0.908,1)" font-size="40.92">53</text>
<text transform="translate(1785.9,2329.6) scale(0.899,1)" font-size="40.92">55</text>
<text transform="translate(1579.9,2358.6) scale(0.908,1)" font-size="40.92">52</text>
</g>
<defs><mask id="logomask" maskUnits="userSpaceOnUse" x="0" y="0" width="2267" height="3102"><path d="M652.6 1147.2 L779.7 1147.2 L841.5 1256.2 L779.7 1370.6 L667.2 1372.4 L590.9 1261.6 Z" fill="#fff" stroke="#fff" stroke-width="14" stroke-linejoin="round"/><g fill="#000" stroke="#000" stroke-width="6" stroke-linejoin="round"><path d="M663.5 1196.3 L681.7 1185.4 L718 1232.6 L703.5 1247.1 Z"/><path d="M736.2 1194.5 L756.1 1199.9 L718 1247.1 L707.1 1236.2 Z"/><rect x="714.4" y="1250.7" width="83.5" height="23.6" rx="10"/><path d="M627.2 1250.7 L649 1247.1 L681.7 1294.3 L665.3 1303.4 Z"/><rect x="703.5" y="1308.8" width="59.9" height="27.2" rx="10"/><path d="M665.3 1303.4 L681.7 1294.3 L710 1312 L680 1345 L660 1360 L650 1345 Z"/></g></mask></defs><g opacity="0.24" fill="rgb(213,213,213)"><rect x="580" y="1130" width="280" height="260" mask="url(#logomask)"/><text transform="translate(914,1514) rotate(25.5)" font-family="Liberation Sans" font-weight="bold" font-size="225">urejček</text><text transform="translate(1262,1765) rotate(33)" font-family="Liberation Sans" font-size="60" textLength="380" lengthAdjust="spacing">GARDEN</text></g>
</svg></body></html>
